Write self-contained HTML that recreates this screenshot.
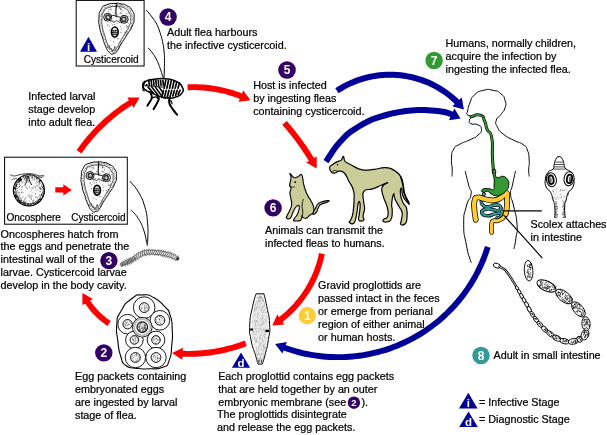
<!DOCTYPE html>
<html><head><meta charset="utf-8"><title>Dipylidium caninum life cycle</title>
<style>
html,body{margin:0;padding:0;background:#fff;}
svg{display:block;}
svg text{font-family:"Liberation Sans",sans-serif;font-size:10.77px;fill:#000;stroke:#000;stroke-width:0.22px;}
</style></head><body>
<svg width="607" height="435" viewBox="0 0 607 435" style="will-change:transform">
<rect width="607" height="435" fill="#fff"/>
<path d="M81.4,153.5 L82.7,151.7 L84.4,149.4 L85.9,147.3 L87.4,145.3 L89.0,143.4 L90.6,141.4 L92.2,139.5 L93.9,137.6 L95.6,135.7 L97.3,133.8 L99.0,132.0 L100.8,130.2 L102.6,128.4 L104.4,126.7 L106.2,124.9 L108.1,123.2 L110.0,121.5 L111.9,119.9 L113.8,118.3 L115.8,116.7 L117.8,115.1 L119.8,113.6 L121.8,112.1 L123.8,110.7 L125.9,109.2 L128.0,107.8 L130.1,106.5 L132.1,105.2 L133.5,108.0 L139.6,97.5 L127.5,97.4 L128.9,100.2 L127.0,101.5 L124.8,102.9 L122.6,104.3 L120.4,105.8 L118.3,107.4 L116.2,108.9 L114.1,110.5 L112.1,112.1 L110.1,113.7 L108.1,115.4 L106.1,117.1 L104.1,118.8 L102.2,120.6 L100.3,122.4 L98.4,124.2 L96.6,126.0 L94.8,127.9 L93.0,129.8 L91.2,131.7 L89.5,133.7 L87.7,135.6 L86.1,137.6 L84.4,139.7 L82.8,141.7 L81.2,143.8 L79.6,145.9 L77.9,148.2 L76.6,150.1Z" fill="#ff0000"/>
<path d="M187.7,90.2 L189.5,90.2 L191.7,90.1 L193.7,90.1 L195.7,90.1 L197.6,90.2 L199.6,90.3 L201.6,90.4 L203.6,90.5 L205.5,90.7 L207.5,90.9 L209.5,91.1 L211.4,91.4 L213.4,91.7 L215.3,92.0 L217.3,92.4 L219.2,92.8 L221.2,93.2 L223.1,93.6 L225.0,94.1 L226.9,94.6 L228.9,95.2 L230.8,95.7 L232.6,96.3 L234.5,96.9 L236.4,97.6 L238.3,98.3 L239.8,98.9 L238.4,101.8 L250.5,100.3 L243.3,90.4 L241.9,93.4 L240.3,92.8 L238.4,92.0 L236.4,91.4 L234.5,90.7 L232.5,90.1 L230.5,89.5 L228.5,88.9 L226.5,88.4 L224.5,87.9 L222.5,87.4 L220.4,87.0 L218.4,86.6 L216.4,86.2 L214.3,85.9 L212.3,85.6 L210.2,85.3 L208.2,85.0 L206.1,84.8 L204.0,84.6 L202.0,84.5 L199.9,84.4 L197.8,84.3 L195.8,84.2 L193.7,84.2 L191.6,84.2 L189.3,84.3 L187.5,84.4Z" fill="#ff0000"/>
<path d="M282.3,124.8 L283.3,126.0 L284.6,127.5 L285.7,128.8 L286.8,130.1 L287.9,131.4 L289.0,132.8 L290.1,134.1 L291.2,135.5 L292.2,136.8 L293.3,138.2 L294.3,139.6 L295.4,141.0 L296.4,142.3 L297.4,143.7 L298.4,145.1 L299.4,146.6 L300.4,148.0 L301.4,149.4 L302.4,150.8 L303.3,152.3 L304.3,153.7 L305.2,155.2 L306.1,156.6 L307.1,158.1 L308.0,159.6 L308.9,161.1 L308.9,161.1 L306.1,162.6 L316.7,168.6 L316.7,156.5 L313.9,158.0 L313.9,158.0 L313.0,156.5 L312.1,155.0 L311.1,153.5 L310.2,152.0 L309.2,150.5 L308.2,149.0 L307.2,147.5 L306.3,146.1 L305.3,144.6 L304.2,143.2 L303.2,141.7 L302.2,140.3 L301.2,138.9 L300.1,137.4 L299.0,136.0 L298.0,134.6 L296.9,133.2 L295.8,131.8 L294.7,130.4 L293.6,129.0 L292.5,127.7 L291.3,126.3 L290.2,125.0 L289.0,123.6 L287.7,122.1 L286.7,121.0Z" fill="#ff0000"/>
<path d="M319.0,253.1 L318.5,255.4 L317.8,258.4 L317.1,261.0 L316.3,263.7 L315.4,266.2 L314.5,268.8 L313.6,271.4 L312.5,273.9 L311.4,276.4 L310.2,278.8 L309.0,281.3 L307.7,283.7 L306.4,286.0 L305.0,288.4 L303.5,290.7 L302.0,292.9 L300.4,295.2 L298.8,297.3 L297.1,299.5 L295.3,301.6 L293.5,303.7 L291.7,305.7 L289.8,307.6 L287.8,309.6 L285.9,311.4 L283.8,313.3 L281.7,315.0 L279.6,316.8 L279.1,317.2 L277.3,314.5 L272.3,325.6 L284.4,324.5 L282.7,321.9 L283.3,321.4 L285.5,319.6 L287.7,317.7 L289.8,315.8 L291.9,313.8 L294.0,311.8 L296.0,309.7 L297.9,307.6 L299.8,305.4 L301.7,303.2 L303.4,300.9 L305.2,298.6 L306.8,296.3 L308.4,293.9 L310.0,291.5 L311.5,289.0 L312.9,286.5 L314.3,284.0 L315.5,281.4 L316.8,278.8 L317.9,276.2 L319.0,273.5 L320.1,270.9 L321.0,268.1 L321.9,265.4 L322.7,262.7 L323.5,259.9 L324.2,256.8 L324.8,254.3Z" fill="#ff0000"/>
<path d="M244.8,340.5 L242.9,341.2 L240.4,342.1 L238.2,342.9 L236.1,343.6 L233.9,344.3 L231.6,344.9 L229.4,345.5 L227.2,346.1 L225.0,346.6 L222.7,347.2 L220.5,347.6 L218.2,348.1 L216.0,348.5 L213.7,348.9 L211.4,349.2 L209.1,349.6 L206.8,349.8 L204.6,350.1 L202.3,350.3 L200.0,350.5 L197.7,350.6 L195.4,350.8 L193.1,350.8 L190.8,350.9 L188.5,350.9 L186.2,350.9 L183.9,350.8 L182.7,350.8 L183.0,347.7 L172.1,353.0 L182.1,359.8 L182.5,356.7 L183.7,356.7 L186.1,356.8 L188.5,356.8 L190.9,356.8 L193.3,356.7 L195.6,356.7 L198.0,356.5 L200.4,356.4 L202.8,356.2 L205.2,356.0 L207.5,355.7 L209.9,355.4 L212.3,355.1 L214.6,354.7 L217.0,354.3 L219.3,353.9 L221.7,353.4 L224.0,352.9 L226.3,352.4 L228.7,351.8 L231.0,351.2 L233.3,350.6 L235.6,349.9 L237.8,349.2 L240.1,348.5 L242.4,347.7 L244.9,346.8 L246.8,346.1Z" fill="#ff0000"/>
<path d="M110.8,321.1 L109.9,320.4 L108.7,319.6 L107.7,318.9 L106.7,318.2 L105.8,317.4 L104.8,316.6 L103.9,315.8 L102.9,315.0 L102.0,314.2 L101.1,313.4 L100.2,312.5 L99.3,311.7 L98.5,310.8 L97.6,309.9 L96.8,309.0 L96.0,308.1 L95.2,307.1 L94.4,306.2 L93.6,305.2 L92.8,304.2 L92.1,303.3 L91.4,302.3 L90.7,301.2 L90.1,300.4 L92.9,299.0 L82.4,293.0 L82.4,305.1 L85.2,303.7 L85.8,304.6 L86.6,305.7 L87.4,306.8 L88.2,307.8 L89.0,308.9 L89.8,309.9 L90.7,310.9 L91.5,311.9 L92.4,312.9 L93.3,313.9 L94.2,314.9 L95.2,315.8 L96.1,316.8 L97.1,317.7 L98.0,318.6 L99.0,319.5 L100.0,320.3 L101.1,321.2 L102.1,322.0 L103.1,322.8 L104.2,323.6 L105.3,324.4 L106.5,325.3 L107.4,325.9Z" fill="#ff0000"/>
<path d="M338.5,93.3 L341.1,91.7 L344.4,89.7 L347.4,88.1 L350.4,86.6 L353.6,85.2 L356.7,83.9 L359.9,82.8 L363.2,81.7 L366.5,80.8 L369.8,80.0 L373.1,79.3 L376.5,78.7 L379.8,78.3 L383.2,78.0 L386.6,77.8 L390.0,77.7 L393.5,77.8 L396.9,78.0 L400.2,78.3 L403.6,78.7 L407.0,79.3 L410.3,79.9 L413.6,80.7 L416.9,81.7 L420.1,82.7 L423.3,83.9 L426.5,85.1 L429.6,86.5 L432.7,88.0 L435.6,89.6 L438.6,91.4 L441.4,93.2 L444.2,95.1 L447.0,97.1 L449.6,99.3 L452.2,101.5 L454.7,103.9 L454.9,104.0 L452.2,106.3 L463.9,109.4 L461.8,97.5 L459.1,99.8 L458.8,99.5 L456.2,97.0 L453.5,94.7 L450.6,92.4 L447.7,90.2 L444.8,88.2 L441.7,86.2 L438.6,84.4 L435.4,82.7 L432.1,81.1 L428.8,79.6 L425.5,78.3 L422.1,77.0 L418.6,75.9 L415.1,74.9 L411.6,74.1 L408.1,73.4 L404.5,72.8 L400.9,72.3 L397.3,72.0 L393.7,71.8 L390.0,71.7 L386.4,71.8 L382.8,72.0 L379.2,72.3 L375.6,72.8 L372.0,73.4 L368.5,74.1 L364.9,75.0 L361.4,76.0 L358.0,77.1 L354.6,78.3 L351.2,79.7 L347.9,81.2 L344.6,82.8 L341.4,84.5 L337.9,86.6 L335.3,88.3Z" fill="#000099"/>
<path d="M328.5,163.2 L330.1,160.7 L332.5,157.1 L335.0,153.2 L337.2,150.1 L339.0,147.8 L340.5,145.9 L342.1,144.1 L343.9,142.2 L345.7,140.3 L347.3,138.5 L349.2,136.7 L351.9,134.6 L355.7,132.0 L360.3,129.1 L365.1,126.3 L369.6,123.9 L373.7,122.1 L377.6,120.7 L381.5,119.5 L385.2,118.4 L388.7,117.4 L392.0,116.6 L395.1,116.0 L398.1,115.3 L400.8,114.8 L403.3,114.4 L405.8,114.0 L408.5,113.7 L411.6,113.4 L414.8,113.2 L418.1,113.1 L421.4,113.0 L424.6,113.0 L427.8,113.2 L431.0,113.4 L434.2,113.7 L437.4,114.0 L440.7,114.5 L443.8,115.0 L446.8,115.8 L450.2,117.0 L450.4,117.1 L448.9,120.3 L460.5,118.6 L454.4,108.5 L452.9,111.7 L452.3,111.4 L448.6,110.0 L445.1,109.1 L441.6,108.5 L438.2,108.1 L434.8,107.7 L431.5,107.4 L428.1,107.2 L424.8,107.0 L421.4,107.0 L418.0,107.1 L414.5,107.2 L411.1,107.4 L407.9,107.7 L405.0,108.0 L402.4,108.4 L399.7,108.9 L396.9,109.5 L393.8,110.1 L390.6,110.8 L387.2,111.6 L383.6,112.6 L379.8,113.7 L375.7,115.0 L371.4,116.6 L367.0,118.5 L362.2,121.0 L357.2,124.0 L352.4,127.0 L348.3,129.8 L345.3,132.1 L343.1,134.3 L341.3,136.2 L339.5,138.2 L337.7,140.1 L336.0,142.0 L334.3,144.0 L332.4,146.5 L330.0,149.9 L327.5,153.8 L325.1,157.5 L323.5,160.0Z" fill="#000099"/>
<path d="M485.0,246.0 L484.1,248.7 L482.9,252.2 L481.8,255.2 L480.6,258.2 L479.4,261.2 L478.1,264.2 L476.7,267.1 L475.3,270.0 L473.8,272.9 L472.3,275.7 L470.6,278.5 L469.0,281.3 L467.2,284.0 L465.5,286.7 L463.6,289.4 L461.7,292.0 L459.8,294.6 L457.8,297.1 L455.7,299.6 L453.6,302.0 L451.4,304.5 L449.2,306.8 L447.0,309.1 L444.7,311.4 L442.3,313.6 L439.9,315.8 L437.5,317.9 L435.0,319.9 L432.4,322.0 L429.9,323.9 L427.2,325.8 L424.6,327.7 L421.9,329.4 L419.2,331.2 L416.4,332.8 L413.6,334.5 L410.8,336.0 L407.9,337.5 L405.0,338.9 L402.1,340.3 L399.1,341.6 L396.1,342.9 L393.1,344.1 L390.1,345.2 L387.0,346.3 L383.9,347.3 L380.8,348.2 L377.7,349.0 L374.6,349.8 L371.4,350.6 L368.3,351.2 L365.1,351.8 L361.9,352.4 L358.7,352.8 L355.5,353.2 L352.3,353.6 L349.0,353.8 L345.8,354.0 L342.6,354.2 L339.3,354.2 L336.1,354.2 L332.9,354.1 L329.6,354.0 L326.4,353.8 L323.2,353.5 L319.9,353.1 L316.7,352.7 L313.5,352.2 L310.3,351.7 L307.1,351.1 L304.0,350.4 L300.8,349.6 L297.7,348.8 L294.6,347.9 L291.5,347.0 L288.4,346.0 L285.6,345.0 L286.9,342.1 L275.1,344.0 L282.4,353.5 L283.7,350.6 L286.5,351.6 L289.7,352.6 L292.9,353.6 L296.1,354.5 L299.4,355.4 L302.7,356.2 L306.0,356.9 L309.3,357.5 L312.6,358.1 L315.9,358.6 L319.2,359.0 L322.6,359.4 L325.9,359.7 L329.3,359.9 L332.7,360.0 L336.0,360.1 L339.4,360.1 L342.7,360.1 L346.1,359.9 L349.5,359.7 L352.8,359.4 L356.1,359.1 L359.5,358.7 L362.8,358.2 L366.1,357.7 L369.4,357.0 L372.7,356.3 L376.0,355.6 L379.2,354.7 L382.5,353.8 L385.7,352.9 L388.9,351.9 L392.1,350.8 L395.2,349.6 L398.3,348.4 L401.4,347.1 L404.5,345.7 L407.5,344.3 L410.6,342.8 L413.5,341.2 L416.5,339.6 L419.4,337.9 L422.3,336.2 L425.1,334.4 L427.9,332.5 L430.7,330.6 L433.4,328.6 L436.0,326.6 L438.7,324.5 L441.3,322.4 L443.8,320.2 L446.3,317.9 L448.7,315.6 L451.1,313.3 L453.5,310.9 L455.8,308.4 L458.0,305.9 L460.2,303.4 L462.4,300.8 L464.4,298.2 L466.5,295.5 L468.4,292.8 L470.3,290.0 L472.2,287.2 L474.0,284.4 L475.7,281.5 L477.4,278.6 L479.0,275.6 L480.6,272.7 L482.0,269.6 L483.5,266.6 L484.8,263.5 L486.1,260.4 L487.3,257.3 L488.5,254.1 L489.7,250.6 L490.6,247.8Z" fill="#000099"/>
<rect x="76.2" y="0.4" width="67.9" height="65.6" fill="#fff" stroke="#000" stroke-width="1"/>
<rect x="4.6" y="157.2" width="122.7" height="67" fill="#fff" stroke="#000" stroke-width="1"/>
<path d="M452.0,176.1 C452.0,173.8 452.3,175.2 452.2,169.2 C452.0,163.2 451.0,164.9 451.5,158.2 C452.0,151.4 451.1,153.6 453.8,149.0 C456.5,144.4 454.2,147.4 459.5,144.4 C464.9,141.3 463.8,142.8 469.9,139.8 C476.0,136.7 474.1,138.6 477.9,135.2 C481.8,131.7 481.4,132.9 481.4,129.4 C481.4,126.0 481.4,126.7 477.9,124.8 C474.5,122.9 473.9,125.2 471.0,123.7 C468.2,122.1 469.4,122.5 469.4,120.2 C469.4,117.9 471.8,118.7 471.0,116.8 C470.3,114.9 468.3,116.4 467.1,114.5 C466.0,112.6 466.7,114.9 467.6,111.0 C468.5,107.2 467.6,108.4 469.9,103.0 C472.2,97.6 469.9,99.2 474.5,94.9 C479.1,90.7 477.5,91.9 483.7,90.3 C489.8,88.8 487.1,89.2 492.9,90.3 C498.6,91.5 496.9,90.3 500.9,93.8 C505.0,97.2 503.7,96.1 505.1,100.7 C506.4,105.3 506.4,103.0 505.1,107.6 C503.7,112.2 503.8,110.3 500.9,114.5 C498.0,118.7 497.5,116.0 496.3,120.2 C495.2,124.4 495.2,122.5 497.5,127.1 C499.8,131.7 497.9,129.7 503.2,134.0 C508.6,138.4 507.0,136.8 513.6,140.2 C520.1,143.7 518.2,141.1 522.8,144.4 C527.4,147.7 525.2,144.8 527.4,150.1 C529.5,155.5 528.7,154.1 529.2,160.5 C529.7,166.8 528.7,164.0 528.7,169.2 C528.7,174.4 529.0,173.8 529.2,176.1" fill="none" stroke="#000" stroke-width="1" stroke-linejoin="round" stroke-linecap="round" />
<path d="M465.3,171.5 C466.4,176.1 466.8,177.6 468.7,185.3 C470.7,193.0 471.8,187.6 471.0,194.5 C470.3,201.4 468.9,196.0 466.4,206.0 C464.0,215.9 463.7,211.3 463.7,224.4 C463.7,237.4 464.4,233.6 466.4,245.1 C468.5,256.6 468.2,253.1 469.9,258.9 C471.6,264.6 471.0,261.1 471.5,262.3" fill="none" stroke="#000" stroke-width="1" stroke-linejoin="round" stroke-linecap="round" />
<path d="M515.4,171.5 C514.4,176.1 514.0,177.6 512.4,185.3 C510.8,193.0 510.2,187.6 510.6,194.5 C511.0,201.4 511.4,196.0 513.6,206.0 C515.7,215.9 516.2,213.6 517.0,224.4 C517.8,235.1 516.9,230.1 515.9,238.2 C514.9,246.2 514.6,245.1 514.0,248.5" fill="none" stroke="#000" stroke-width="1" stroke-linejoin="round" stroke-linecap="round" />
<path d="M471.0,116.8 C474.1,116.2 475.6,113.6 480.2,115.2 C484.8,116.7 482.5,116.6 484.8,121.4 C487.1,126.1 484.8,124.1 487.1,129.4 C489.4,134.8 490.0,128.7 491.7,137.5 C493.5,146.3 491.9,145.1 492.4,155.9 C493.0,166.6 493.0,164.4 493.3,169.7 C493.6,174.9 493.3,170.9 493.3,171.5" fill="none" stroke="#000" stroke-width="3.0" stroke-linejoin="round" stroke-linecap="round" />
<path d="M471.0,116.8 C474.1,116.2 475.6,113.6 480.2,115.2 C484.8,116.7 482.5,116.6 484.8,121.4 C487.1,126.1 484.8,124.1 487.1,129.4 C489.4,134.8 490.0,128.7 491.7,137.5 C493.5,146.3 491.9,145.1 492.4,155.9 C493.0,166.6 493.0,164.4 493.3,169.7 C493.6,174.9 493.3,170.9 493.3,171.5" fill="none" stroke="#339933" stroke-width="1.7" stroke-linejoin="round" stroke-linecap="round" />
<path d="M484.1,193.9 C483.3,195.9 482.2,196.3 481.7,199.9 C481.2,203.5 480.7,202.4 482.6,204.7 C484.5,207.0 483.3,206.7 487.4,206.8 C491.5,206.9 490.6,205.1 494.9,205.0 C499.2,204.9 499.0,204.7 500.3,206.5 C501.6,208.3 501.6,209.4 498.8,210.4 C496.0,211.4 496.2,209.9 491.9,209.5 C487.6,209.1 489.3,208.2 485.9,209.2 C482.5,210.2 481.2,210.3 481.7,212.5 C482.2,214.6 483.0,215.2 487.4,215.7 C491.8,216.2 490.4,214.7 494.9,213.9 C499.4,213.1 499.1,212.5 500.9,213.3 C502.7,214.2 501.6,215.1 500.3,216.6 C499.0,218.1 498.1,217.4 497.0,217.8" fill="none" stroke="#000" stroke-width="3.5" stroke-linejoin="round" stroke-linecap="round" />
<path d="M484.1,193.9 C483.3,195.9 482.2,196.3 481.7,199.9 C481.2,203.5 480.7,202.4 482.6,204.7 C484.5,207.0 483.3,206.7 487.4,206.8 C491.5,206.9 490.6,205.1 494.9,205.0 C499.2,204.9 499.0,204.7 500.3,206.5 C501.6,208.3 501.6,209.4 498.8,210.4 C496.0,211.4 496.2,209.9 491.9,209.5 C487.6,209.1 489.3,208.2 485.9,209.2 C482.5,210.2 481.2,210.3 481.7,212.5 C482.2,214.6 483.0,215.2 487.4,215.7 C491.8,216.2 490.4,214.7 494.9,213.9 C499.4,213.1 499.1,212.5 500.9,213.3 C502.7,214.2 501.6,215.1 500.3,216.6 C499.0,218.1 498.1,217.4 497.0,217.8" fill="none" stroke="#339999" stroke-width="2.1" stroke-linejoin="round" stroke-linecap="round" />
<path d="M475.8,219.8 C475.4,216.7 474.8,215.4 474.4,209.6 C474.1,203.9 473.5,204.3 474.6,200.6 C475.6,197.0 474.9,198.0 477.9,197.5 C480.8,197.0 479.8,198.1 484.4,199.0 C489.1,199.9 488.5,200.7 493.4,200.3 C498.3,200.0 497.0,200.0 500.9,197.8 C504.7,195.6 504.4,192.2 506.3,192.9 C508.1,193.5 506.9,195.3 507.0,199.9 C507.1,204.5 507.1,203.8 506.7,208.1 C506.3,212.4 506.0,212.4 505.7,214.2" fill="none" stroke="#000" stroke-width="5.8" stroke-linejoin="round" stroke-linecap="round" />
<path d="M505.7,214.2 C504.7,215.5 504.9,216.5 502.4,218.4 C499.8,220.4 499.8,220.1 497.1,220.8 C494.4,221.5 495.1,219.8 493.4,220.8 C491.7,221.8 492.1,220.6 491.6,224.1 C491.1,227.6 491.6,230.0 491.6,232.5" fill="none" stroke="#000" stroke-width="4.6" stroke-linejoin="round" stroke-linecap="round" />
<path d="M475.8,219.8 C475.4,216.7 474.8,215.4 474.4,209.6 C474.1,203.9 473.5,204.3 474.6,200.6 C475.6,197.0 474.9,198.0 477.9,197.5 C480.8,197.0 479.8,198.1 484.4,199.0 C489.1,199.9 488.5,200.7 493.4,200.3 C498.3,200.0 497.0,200.0 500.9,197.8 C504.7,195.6 504.4,192.2 506.3,192.9 C508.1,193.5 506.9,195.3 507.0,199.9 C507.1,204.5 507.1,203.8 506.7,208.1 C506.3,212.4 506.0,212.4 505.7,214.2" fill="none" stroke="#ffcc33" stroke-width="4.3" stroke-linejoin="round" stroke-linecap="round" />
<path d="M505.7,214.2 C504.7,215.5 504.9,216.5 502.4,218.4 C499.8,220.4 499.8,220.1 497.1,220.8 C494.4,221.5 495.1,219.8 493.4,220.8 C491.7,221.8 492.1,220.6 491.6,224.1 C491.1,227.6 491.6,230.0 491.6,232.5" fill="none" stroke="#ffcc33" stroke-width="3.1" stroke-linejoin="round" stroke-linecap="round" />
<path d="M492.8,170.0 C493.4,168.8 494.7,168.4 495.5,170.0 C496.3,171.6 494.8,174.0 495.6,176.0 C496.5,178.0 496.6,177.4 498.6,177.5 C500.6,177.6 500.7,175.7 503.1,176.3 C505.5,176.9 506.1,177.2 507.6,179.7 C509.1,182.2 509.0,182.7 508.6,185.7 C508.2,188.7 508.2,188.5 506.1,190.9 C504.0,193.3 503.7,193.4 500.9,194.7 C498.1,195.9 498.2,195.9 495.6,195.7 C493.1,195.5 493.4,195.1 491.2,193.9 C489.0,192.7 489.4,191.6 487.4,191.2 C485.4,190.8 485.2,192.5 483.7,192.4 C482.2,192.3 481.7,191.9 481.7,190.9 C481.7,190.0 481.8,189.4 483.7,188.8 C485.6,188.2 486.3,188.5 488.9,188.7 C491.5,188.8 492.0,190.4 493.4,189.4 C494.8,188.4 493.9,187.7 494.1,184.9 C494.3,182.2 494.4,181.8 494.1,179.0 C493.9,176.2 493.5,176.9 493.1,174.5 C492.7,172.1 492.2,171.2 492.8,170.0Z" fill="#339933" stroke="#000" stroke-width="1.0" stroke-linejoin="round" stroke-linecap="round" />
<path d="M502,210.8H541.8 M503.7,215.1 L542.3,258.1" stroke="#000" stroke-width="1.15" fill="none"/>
<path d="M313.1,212.6 C313.6,210.8 313.8,211.7 315.2,209.1 C316.6,206.6 315.4,207.3 317.2,205.0 C319.1,202.7 317.2,203.7 320.7,202.2 C324.1,200.8 325.3,200.7 327.6,200.6 C329.9,200.5 329.7,200.7 327.6,202.0 C325.5,203.2 324.4,202.6 321.4,204.3 C318.4,206.0 320.2,204.5 318.6,207.1 C317.0,209.6 318.2,209.5 316.6,211.9 C314.9,214.3 314.9,214.1 313.8,214.4 C312.6,214.6 312.6,214.3 313.1,212.6Z" fill="#cccc99" stroke="#000" stroke-width="1.1" stroke-linejoin="round" stroke-linecap="round" />
<path d="M289.9,173.3 C290.7,173.3 291.7,176.5 293.8,177.4 C295.9,178.3 295.9,177.5 297.9,176.7 C300.0,175.9 300.1,173.8 301.4,174.4 C302.7,174.9 302.2,176.5 302.8,178.8 C303.3,181.1 302.9,180.4 303.4,182.9 C304.0,185.5 303.7,185.1 304.8,188.4 C305.9,191.8 305.9,192.0 307.6,195.3 C309.2,198.7 309.4,197.6 311.0,200.9 C312.7,204.2 313.2,204.6 313.8,207.8 C314.3,210.9 314.2,210.6 313.1,212.6 C312.0,214.6 311.5,213.9 309.7,215.3 C307.8,216.8 308.0,217.6 306.2,218.1 C304.4,218.7 303.9,218.1 302.8,217.4 C301.7,216.7 302.6,214.6 302.1,215.3 C301.5,216.1 302.5,218.7 300.7,220.2 C298.9,221.6 297.0,221.0 295.2,220.9 C293.3,220.7 293.1,221.5 293.8,219.5 C294.5,217.5 296.5,216.8 297.9,213.3 C299.4,209.8 299.7,208.2 299.3,206.4 C298.9,204.5 298.0,205.3 296.6,206.4 C295.1,207.5 295.4,207.4 293.8,210.5 C292.1,213.6 292.2,216.1 290.3,218.1 C288.5,220.1 287.8,218.7 286.9,218.1 C286.0,217.6 286.0,218.4 286.9,216.0 C287.8,213.6 289.1,212.4 290.3,209.1 C291.6,205.8 291.6,206.6 291.7,203.6 C291.8,200.7 291.2,201.0 290.8,198.1 C290.3,195.2 289.9,195.2 289.9,192.6 C290.0,190.0 291.1,190.3 291.0,188.4 C291.0,186.6 289.8,187.5 289.7,185.7 C289.5,183.9 290.0,183.8 290.3,181.6 C290.7,179.3 291.1,179.6 291.0,177.4 C290.9,175.2 289.2,173.3 289.9,173.3Z" fill="#cccc99" stroke="#000" stroke-width="1.1" stroke-linejoin="round" stroke-linecap="round" />
<path d="M303.4,199.5 C303.0,201.3 302.3,200.9 302.1,205.0 C301.8,209.1 302.8,208.4 302.8,211.9 C302.8,215.3 302.3,214.2 302.1,215.3" fill="none" stroke="#000" stroke-width="0.9" stroke-linejoin="round" stroke-linecap="round" />
<circle cx="295.2" cy="182.2" r="0.9" fill="#000"/>
<path d="M290.3,185.7 C291.0,186.1 291.0,186.7 292.4,187.1 C293.8,187.4 293.8,186.9 294.5,186.8" fill="none" stroke="#000" stroke-width="0.8" stroke-linejoin="round" stroke-linecap="round" />
<path d="M329.6,167.5 C329.8,165.5 330.2,166.3 332.4,164.7 C334.6,163.1 335.5,162.6 337.9,161.4 C340.2,160.2 339.7,161.4 341.2,160.1 C342.7,158.8 342.4,156.2 343.4,156.4 C344.4,156.7 343.4,159.1 344.9,161.0 C346.4,163.0 345.9,162.1 348.9,163.8 C352.0,165.5 355.0,166.8 356.3,167.5 C357.6,168.2 352.1,165.8 353.7,166.4 C355.3,167.1 357.0,169.0 362.4,169.8 C367.8,170.6 367.8,169.9 374.0,169.3 C380.2,168.8 380.2,167.3 385.6,167.6 C391.0,167.9 390.2,168.1 394.3,170.5 C398.3,172.9 398.4,172.7 400.8,176.6 C403.2,180.5 402.2,180.7 403.3,185.3 C404.3,189.9 403.2,189.3 404.7,194.0 C406.3,198.7 408.4,200.7 409.1,203.0 C409.8,205.2 408.9,204.2 407.3,202.4 C405.7,200.6 404.5,199.9 403.0,196.2 C401.4,192.4 402.2,188.8 401.5,188.2 C400.8,187.6 400.0,190.1 400.4,194.0 C400.7,197.9 401.3,198.8 403.0,202.7 C404.6,206.5 405.6,204.2 406.6,208.5 C407.6,212.7 407.3,214.6 406.9,218.6 C406.5,222.7 406.8,222.1 405.1,223.7 C403.5,225.2 401.8,225.2 400.8,224.4 C399.8,223.6 400.8,223.9 401.2,220.8 C401.6,217.7 402.7,216.5 402.2,212.8 C401.7,209.2 401.3,210.7 399.3,207.0 C397.4,203.4 396.5,202.5 395.0,199.1 C393.5,195.6 394.4,192.6 393.6,194.0 C392.7,195.3 392.0,199.9 391.7,204.1 C391.3,208.4 392.3,206.1 392.2,209.9 C392.2,213.8 392.6,215.5 391.4,218.6 C390.2,221.8 389.9,221.0 387.8,221.8 C385.6,222.6 384.4,222.2 383.4,221.5 C382.4,220.8 382.9,220.3 383.8,219.2 C384.8,218.1 385.9,219.2 387.0,217.5 C388.2,215.8 388.3,216.0 388.2,212.8 C388.1,209.7 388.0,209.8 386.7,205.6 C385.5,201.3 384.7,201.7 383.4,196.9 C382.1,192.1 380.8,191.3 382.0,187.5 C383.1,183.7 387.9,183.3 387.8,182.7 C387.6,182.1 385.3,183.6 381.2,185.3 C377.2,187.0 377.2,187.3 372.5,188.9 C367.9,190.5 366.2,188.1 363.8,191.4 C361.4,194.7 363.4,196.7 363.6,201.2 C363.7,205.8 364.7,204.6 364.6,208.5 C364.4,212.3 363.3,212.6 363.1,215.7 C362.9,218.8 364.6,218.7 363.8,220.1 C363.1,221.5 361.6,221.3 360.2,220.9 C358.8,220.6 358.8,221.1 358.6,218.9 C358.4,216.7 359.1,216.8 359.5,212.8 C359.9,208.9 360.4,206.8 360.1,204.1 C359.8,201.5 359.3,200.3 358.3,203.0 C357.4,205.7 357.8,208.9 356.6,214.3 C355.4,219.6 355.9,220.8 354.0,223.0 C352.1,225.1 350.2,223.2 349.3,222.4 C348.5,221.5 349.8,222.3 350.8,219.8 C351.8,217.2 352.1,217.8 353.0,212.8 C353.8,207.9 353.9,207.2 354.0,201.2 C354.1,195.2 354.8,195.7 353.4,190.4 C352.1,185.0 351.3,185.9 348.9,181.3 C346.5,176.7 347.0,175.7 344.3,173.0 C341.6,170.3 341.3,171.2 338.8,171.2 C336.4,171.2 337.1,172.8 335.1,173.0 C333.2,173.3 332.9,173.6 331.4,172.1 C330.0,170.6 329.4,169.4 329.6,167.5Z" fill="#cccc99" stroke="#000" stroke-width="1.2" stroke-linejoin="round" stroke-linecap="round" />
<path d="M400.8,177.3 C401.5,180.0 401.8,179.7 403.0,185.3 C404.2,190.8 402.6,188.3 404.4,194.0 C406.3,199.7 407.1,199.6 408.5,202.4" fill="none" stroke="#000" stroke-width="1.4" stroke-linejoin="round" stroke-linecap="round" />
<path d="M331.4,172.1 C332.4,171.6 332.5,171.1 334.2,170.6 C335.9,170.1 335.7,170.6 336.4,170.6" fill="none" stroke="#000" stroke-width="0.8" stroke-linejoin="round" stroke-linecap="round" />
<circle cx="337.5" cy="164.7" r="0.8" fill="#000"/>
<path d="M116.2,3.4 C111.4,3.8 111.6,2.8 106.6,4.8 C101.5,6.9 103.6,5.3 101.0,9.7 C98.5,14.0 99.4,12.0 99.0,17.9 C98.5,23.9 98.5,21.1 99.7,27.6 C100.8,34.0 100.3,30.8 102.4,37.2 C104.5,43.7 103.6,41.8 105.9,46.9 C108.2,52.0 106.8,50.1 109.3,52.4 C111.8,54.7 110.7,54.5 113.4,53.8 C116.2,53.1 115.1,53.6 117.6,50.3 C120.1,47.1 117.8,49.4 121.0,44.1 C124.3,38.9 123.6,40.5 127.2,34.5 C130.9,28.5 129.8,31.7 132.1,26.2 C134.4,20.7 134.1,23.2 134.1,17.9 C134.1,12.6 134.6,14.5 132.1,10.3 C129.5,6.2 130.2,7.7 126.6,5.5 C122.9,3.4 124.5,4.6 121.0,3.9 C117.6,3.2 121.0,3.1 116.2,3.4Z" fill="#fff" stroke="#000" stroke-width="1.0" stroke-linejoin="round" stroke-linecap="round" />
<path d="M116.1,6.4 C112.1,6.7 112.3,5.8 108.2,7.6 C104.0,9.4 105.7,8.0 103.7,11.8 C101.6,15.6 102.3,13.8 102.0,19.0 C101.6,24.2 101.6,21.8 102.5,27.4 C103.5,33.0 103.1,30.2 104.8,35.8 C106.5,41.4 105.7,39.8 107.6,44.2 C109.5,48.6 108.4,47.0 110.4,49.0 C112.5,51.0 111.6,50.8 113.8,50.2 C116.1,49.6 115.2,50.0 117.2,47.2 C119.3,44.4 117.4,46.4 120.1,41.8 C122.7,37.2 122.1,38.6 125.1,33.4 C128.2,28.2 127.2,31.0 129.1,26.2 C131.0,21.4 130.8,23.6 130.8,19.0 C130.8,14.4 131.2,16.0 129.1,12.4 C127.0,8.8 127.6,10.1 124.6,8.2 C121.6,6.3 122.9,7.4 120.1,6.8 C117.2,6.2 120.1,6.1 116.1,6.4Z" fill="none" stroke="#000" stroke-width="0.7" stroke-linejoin="round" stroke-linecap="round" />
<path d="M116.5,5.0 C116.3,7.0 116.0,7.3 115.9,11.0 C115.8,14.8 116.1,14.5 116.2,16.3" fill="none" stroke="#000" stroke-width="1.1" stroke-linejoin="round" stroke-linecap="round" />
<path d="M110.7,16.3 C111.7,16.0 111.9,15.4 113.7,15.4 C115.6,15.5 114.6,16.1 116.2,16.6 C117.9,17.0 117.1,16.3 118.7,16.8 C120.3,17.4 120.3,17.7 121.0,18.2" fill="none" stroke="#000" stroke-width="1.0" stroke-linejoin="round" stroke-linecap="round" />
<path d="M111.8,20.7 C112.6,21.1 112.6,22.1 114.1,22.1 C115.7,22.1 114.9,20.7 116.5,20.7 C118.1,20.7 117.3,21.4 119.0,22.1 C120.6,22.8 120.6,22.5 121.4,22.8" fill="none" stroke="#000" stroke-width="0.8" stroke-linejoin="round" stroke-linecap="round" />
<circle cx="107.7" cy="17.2" r="4.0" fill="#e8e8e8" stroke="#000" stroke-width="0.9"/>
<circle cx="108.1" cy="17.2" r="2.2" fill="#ccc" stroke="#333" stroke-width="1.4"/>
<circle cx="124.2" cy="19.3" r="4.0" fill="#e8e8e8" stroke="#000" stroke-width="0.9"/>
<circle cx="123.8" cy="19.3" r="2.2" fill="#ccc" stroke="#333" stroke-width="1.4"/>
<ellipse cx="114.8" cy="32.0" rx="3.3" ry="5.0" fill="#fff" stroke="#000" stroke-width="1.7"/>
<path d="M112.2,30.4h5.2 M112.0,32.4h5.6 M112.6,34.4h4.4 M113.8,30.4v5 M115.8,30.4v5" stroke="#000" stroke-width="0.7"/>
<path d="M109.3,45.5 C109.8,46.7 109.3,47.6 110.7,49.0 C112.1,50.3 112.1,50.6 113.4,49.7 C114.8,48.7 114.4,47.4 114.8,46.2" fill="none" stroke="#000" stroke-width="0.6" stroke-linejoin="round" stroke-linecap="round" />
<path d="M108.8,30.3h0.7 M112.6,32.9h0.7 M120.0,9.3h0.7 M109.4,16.7h0.7 M126.1,27.3h0.7 M120.4,13.0h0.7 M117.0,38.9h0.7 M121.3,9.2h0.7 M123.8,32.3h0.7 M110.6,7.8h0.7 M126.9,27.1h0.7 M113.4,41.5h0.7 M114.8,47.4h0.7 M105.9,15.9h0.7 M120.0,19.6h0.7 M116.6,23.3h0.7 M112.1,32.0h0.7 M121.3,13.6h0.7 M122.5,15.7h0.7 M125.9,31.5h0.7 M110.2,9.2h0.7 M113.8,13.0h0.7 M110.4,40.1h0.7 M119.7,8.4h0.7 M122.7,20.9h0.7 M110.9,9.8h0.7 M119.3,7.8h0.7 M107.7,24.3h0.7 M119.6,13.3h0.7 M111.0,48.4h0.7 M127.8,23.0h0.7 M115.2,29.2h0.7 M120.5,32.5h0.7 M118.1,33.6h0.7 M114.4,38.0h0.7 M108.8,19.6h0.7 M117.8,6.9h0.7 M113.9,31.8h0.7 M120.2,9.0h0.7 M120.1,26.8h0.7 M121.6,21.9h0.7 M109.2,26.4h0.7 M119.1,20.4h0.7 M112.5,20.1h0.7 M112.6,32.5h0.7 M110.6,22.9h0.7 M118.4,38.6h0.7 M110.9,16.2h0.7 M125.1,16.9h0.7 M107.4,25.5h0.7 M122.1,10.9h0.7 M111.2,21.0h0.7 M126.0,25.6h0.7 M126.6,13.8h0.7 M111.7,34.9h0.7 M127.5,26.2h0.7 M108.4,11.7h0.7 M117.2,14.8h0.7 M107.3,18.6h0.7 M125.2,21.5h0.7 M105.7,19.2h0.7 M124.9,18.3h0.7 M111.9,24.7h0.7 M114.1,24.4h0.7 M128.5,13.2h0.7 M114.5,48.0h0.7 M128.7,16.1h0.7 M121.1,29.1h0.7 M110.3,21.4h0.7 M108.5,9.4h0.7" stroke="#000" stroke-width="0.7" fill="none"/>
<path d="M116.3,4.6h0.6 M115.9,4.4h0.6 M115.0,5.4h0.6 M113.9,5.7h0.6 M112.6,5.4h0.6 M110.1,5.8h0.6 M109.1,5.4h0.6 M108.6,5.9h0.6 M107.2,6.8h0.6 M106.7,6.4h0.6 M105.4,7.5h0.6 M105.0,7.9h0.6 M104.2,7.7h0.6 M103.9,9.1h0.6 M102.8,9.7h0.6 M103.4,10.4h0.6 M102.8,10.1h0.6 M102.1,12.0h0.6 M101.0,12.1h0.6 M101.0,13.4h0.6 M100.9,14.3h0.6 M101.2,14.6h0.6 M100.1,15.9h0.6 M100.0,16.8h0.6 M101.1,19.0h0.6 M99.8,19.5h0.6 M100.1,20.4h0.6 M100.2,22.0h0.6 M100.6,22.7h0.6 M100.2,23.8h0.6 M100.2,25.3h0.6 M101.2,26.2h0.6 M100.5,27.1h0.6 M101.1,28.8h0.6 M102.0,29.6h0.6 M102.3,31.1h0.6 M102.1,31.8h0.6 M102.5,33.4h0.6 M102.8,34.5h0.6 M103.2,35.0h0.6 M103.6,36.8h0.6 M103.4,37.6h0.6 M104.2,39.4h0.6 M105.3,39.9h0.6 M105.7,41.7h0.6 M105.2,42.4h0.6 M105.4,44.0h0.6 M106.6,45.1h0.6 M107.1,45.8h0.6 M107.4,46.5h0.6 M107.0,47.3h0.6 M107.2,47.5h0.6 M108.6,48.0h0.6 M108.1,48.7h0.6 M109.6,49.3h0.6 M108.8,50.8h0.6 M109.4,51.2h0.6 M110.6,51.6h0.6 M111.4,51.5h0.6 M111.7,51.0h0.6 M112.1,51.9h0.6 M112.5,51.5h0.6 M113.0,52.7h0.6 M112.6,51.8h0.6 M113.7,52.5h0.6 M113.8,51.4h0.6 M114.3,51.7h0.6 M115.4,51.1h0.6 M115.4,50.7h0.6 M115.8,50.3h0.6 M115.9,49.9h0.6 M117.6,49.2h0.6 M117.7,48.3h0.6 M118.1,48.6h0.6 M118.4,47.6h0.6 M118.5,47.1h0.6 M119.4,45.8h0.6 M118.7,45.8h0.6 M120.2,44.7h0.6 M120.0,44.2h0.6 M120.1,42.7h0.6 M120.7,42.1h0.6 M121.6,40.5h0.6 M122.8,40.4h0.6 M123.0,38.9h0.6 M123.9,37.9h0.6 M124.9,35.9h0.6 M125.1,34.4h0.6 M126.2,33.8h0.6 M126.4,32.7h0.6 M127.2,32.3h0.6 M127.6,31.6h0.6 M128.6,30.1h0.6 M129.1,29.5h0.6 M130.1,28.2h0.6 M130.1,27.5h0.6 M131.1,26.1h0.6 M131.3,25.9h0.6 M131.3,23.9h0.6 M131.3,23.6h0.6 M132.2,22.9h0.6 M132.6,21.0h0.6 M131.9,20.0h0.6 M132.0,19.7h0.6 M133.0,19.0h0.6 M132.1,18.0h0.6 M132.1,16.5h0.6 M132.5,15.1h0.6 M131.4,15.2h0.6 M131.4,13.6h0.6 M131.5,13.2h0.6 M130.3,11.9h0.6 M130.5,11.4h0.6 M129.7,10.8h0.6 M130.2,9.9h0.6 M129.0,8.8h0.6 M128.0,9.0h0.6 M127.1,8.8h0.6 M127.5,7.2h0.6 M126.8,7.1h0.6 M125.9,7.2h0.6 M124.7,6.8h0.6 M124.5,6.7h0.6 M123.3,6.4h0.6 M123.7,6.1h0.6 M122.4,5.2h0.6 M121.7,5.4h0.6 M121.4,5.7h0.6 M120.6,4.9h0.6 M120.1,5.4h0.6 M118.9,5.7h0.6 M118.9,4.6h0.6 M118.6,4.5h0.6 M117.2,5.3h0.6 M117.1,5.0h0.6 M116.7,4.9h0.6 M115.9,4.5h0.6" stroke="#222" stroke-width="0.6" fill="none"/>
<path d="M98.5,162.0 C93.7,162.4 93.9,161.4 88.9,163.4 C83.8,165.4 85.9,163.9 83.3,168.2 C80.8,172.5 81.7,170.4 81.3,176.3 C80.8,182.2 80.8,179.5 82.0,185.8 C83.1,192.2 82.6,189.0 84.7,195.3 C86.8,201.7 85.9,199.9 88.2,204.8 C90.5,209.8 89.1,208.0 91.6,210.3 C94.1,212.5 93.0,212.3 95.7,211.6 C98.5,211.0 97.4,211.4 99.9,208.2 C102.4,205.1 100.1,207.3 103.3,202.1 C106.6,196.9 105.9,198.5 109.5,192.6 C113.2,186.7 112.1,189.9 114.4,184.5 C116.7,179.0 116.4,181.5 116.4,176.3 C116.4,171.1 116.9,172.9 114.4,168.8 C111.8,164.8 112.5,166.2 108.9,164.1 C105.2,162.0 106.8,163.1 103.3,162.5 C99.9,161.8 103.3,161.7 98.5,162.0Z" fill="#fff" stroke="#000" stroke-width="1.0" stroke-linejoin="round" stroke-linecap="round" />
<path d="M98.4,165.0 C94.4,165.2 94.6,164.4 90.5,166.2 C86.3,167.9 88.0,166.5 86.0,170.3 C83.9,174.0 84.6,172.3 84.3,177.4 C83.9,182.5 83.9,180.1 84.8,185.7 C85.8,191.2 85.4,188.4 87.1,193.9 C88.8,199.4 88.0,197.9 89.9,202.2 C91.8,206.5 90.7,205.0 92.7,206.9 C94.8,208.9 93.9,208.7 96.1,208.1 C98.4,207.5 97.5,207.9 99.5,205.2 C101.6,202.4 99.7,204.4 102.4,199.8 C105.0,195.3 104.4,196.7 107.4,191.6 C110.5,186.4 109.5,189.2 111.4,184.5 C113.3,179.7 113.1,181.9 113.1,177.4 C113.1,172.9 113.5,174.4 111.4,170.9 C109.3,167.3 109.9,168.6 106.9,166.7 C103.9,164.9 105.2,165.9 102.4,165.3 C99.5,164.7 102.4,164.7 98.4,165.0Z" fill="none" stroke="#000" stroke-width="0.7" stroke-linejoin="round" stroke-linecap="round" />
<path d="M98.8,163.5 C98.6,165.5 98.3,165.8 98.2,169.5 C98.1,173.2 98.4,173.0 98.5,174.7" fill="none" stroke="#000" stroke-width="1.1" stroke-linejoin="round" stroke-linecap="round" />
<path d="M93.0,174.7 C94.0,174.4 94.2,173.8 96.0,173.9 C97.9,174.0 96.9,174.5 98.5,175.0 C100.2,175.4 99.4,174.7 101.0,175.2 C102.6,175.8 102.6,176.1 103.3,176.6" fill="none" stroke="#000" stroke-width="1.0" stroke-linejoin="round" stroke-linecap="round" />
<path d="M94.1,179.0 C94.9,179.5 94.9,180.4 96.4,180.4 C98.0,180.4 97.2,179.0 98.8,179.0 C100.4,179.0 99.6,179.7 101.3,180.4 C102.9,181.1 102.9,180.8 103.7,181.1" fill="none" stroke="#000" stroke-width="0.8" stroke-linejoin="round" stroke-linecap="round" />
<circle cx="90.0" cy="175.6" r="4.0" fill="#e8e8e8" stroke="#000" stroke-width="0.9"/>
<circle cx="90.4" cy="175.6" r="2.2" fill="#ccc" stroke="#333" stroke-width="1.4"/>
<circle cx="106.5" cy="177.7" r="4.0" fill="#e8e8e8" stroke="#000" stroke-width="0.9"/>
<circle cx="106.1" cy="177.7" r="2.2" fill="#ccc" stroke="#333" stroke-width="1.4"/>
<ellipse cx="97.1" cy="190.2" rx="3.3" ry="4.9" fill="#fff" stroke="#000" stroke-width="1.7"/>
<path d="M94.5,188.6h5.2 M94.3,190.6h5.6 M94.9,192.6h4.4 M96.1,188.6v5 M98.1,188.6v5" stroke="#000" stroke-width="0.7"/>
<path d="M91.6,203.5 C92.1,204.6 91.6,205.5 93.0,206.9 C94.4,208.2 94.4,208.5 95.7,207.6 C97.1,206.7 96.7,205.3 97.1,204.2" fill="none" stroke="#000" stroke-width="0.6" stroke-linejoin="round" stroke-linecap="round" />
<path d="M91.1,188.4h0.7 M94.9,191.0h0.7 M102.3,167.8h0.7 M91.7,175.1h0.7 M108.4,185.5h0.7 M102.7,171.5h0.7 M99.3,196.9h0.7 M103.6,167.7h0.7 M106.1,190.5h0.7 M92.9,166.3h0.7 M109.2,185.4h0.7 M95.7,199.5h0.7 M97.1,205.3h0.7 M88.2,174.3h0.7 M102.3,178.0h0.7 M98.9,181.6h0.7 M94.4,190.2h0.7 M103.6,172.0h0.7 M104.8,174.1h0.7 M108.2,189.7h0.7 M92.5,167.7h0.7 M96.1,171.5h0.7 M92.7,198.1h0.7 M102.0,166.9h0.7 M105.0,179.2h0.7 M93.2,168.3h0.7 M101.6,166.3h0.7 M90.0,182.6h0.7 M101.9,171.7h0.7 M93.3,206.3h0.7 M110.1,181.3h0.7 M97.5,187.4h0.7 M102.8,190.7h0.7 M100.4,191.7h0.7 M96.7,196.0h0.7 M91.1,178.0h0.7 M100.1,165.5h0.7 M96.2,190.0h0.7 M102.5,167.6h0.7 M102.4,185.1h0.7 M103.9,180.2h0.7 M91.5,184.7h0.7 M101.4,178.8h0.7 M94.8,178.5h0.7 M94.9,190.7h0.7 M92.9,181.2h0.7 M100.7,196.7h0.7 M93.2,174.6h0.7 M107.4,175.3h0.7 M89.7,183.7h0.7 M104.4,169.4h0.7 M93.5,179.4h0.7 M108.3,183.9h0.7 M108.9,172.3h0.7 M94.0,193.0h0.7 M109.8,184.4h0.7 M90.7,170.2h0.7 M99.5,173.2h0.7 M89.6,177.0h0.7 M107.5,179.9h0.7 M88.0,177.6h0.7 M107.2,176.7h0.7 M94.2,183.0h0.7 M96.4,182.6h0.7 M110.8,171.7h0.7 M96.8,206.0h0.7 M111.0,174.6h0.7 M103.4,187.4h0.7 M92.6,179.7h0.7 M90.8,167.9h0.7" stroke="#000" stroke-width="0.7" fill="none"/>
<path d="M98.6,163.2h0.6 M98.2,163.0h0.6 M97.3,163.9h0.6 M96.2,164.3h0.6 M94.9,164.0h0.6 M92.4,164.3h0.6 M91.4,163.9h0.6 M90.9,164.5h0.6 M89.5,165.4h0.6 M89.0,164.9h0.6 M87.7,166.1h0.6 M87.3,166.5h0.6 M86.5,166.2h0.6 M86.2,167.6h0.6 M85.1,168.2h0.6 M85.7,168.9h0.6 M85.1,168.6h0.6 M84.4,170.5h0.6 M83.3,170.6h0.6 M83.3,171.8h0.6 M83.2,172.7h0.6 M83.5,173.1h0.6 M82.4,174.3h0.6 M82.3,175.2h0.6 M83.4,177.3h0.6 M82.1,177.9h0.6 M82.4,178.7h0.6 M82.5,180.3h0.6 M82.9,181.0h0.6 M82.5,182.1h0.6 M82.5,183.6h0.6 M83.5,184.5h0.6 M82.8,185.3h0.6 M83.4,187.0h0.6 M84.3,187.8h0.6 M84.6,189.2h0.6 M84.4,190.0h0.6 M84.8,191.6h0.6 M85.1,192.7h0.6 M85.5,193.2h0.6 M85.9,194.9h0.6 M85.7,195.7h0.6 M86.5,197.5h0.6 M87.6,198.0h0.6 M88.0,199.7h0.6 M87.5,200.4h0.6 M87.7,202.0h0.6 M88.9,203.1h0.6 M89.4,203.8h0.6 M89.7,204.5h0.6 M89.3,205.3h0.6 M89.5,205.4h0.6 M90.9,205.9h0.6 M90.4,206.6h0.6 M91.9,207.3h0.6 M91.1,208.6h0.6 M91.7,209.1h0.6 M92.9,209.4h0.6 M93.7,209.4h0.6 M94.0,208.9h0.6 M94.4,209.8h0.6 M94.8,209.4h0.6 M95.3,210.5h0.6 M94.9,209.7h0.6 M96.0,210.3h0.6 M96.1,209.3h0.6 M96.6,209.6h0.6 M97.7,209.0h0.6 M97.7,208.6h0.6 M98.1,208.2h0.6 M98.2,207.8h0.6 M99.9,207.1h0.6 M100.0,206.2h0.6 M100.4,206.5h0.6 M100.7,205.5h0.6 M100.8,205.1h0.6 M101.7,203.7h0.6 M101.0,203.8h0.6 M102.5,202.7h0.6 M102.3,202.2h0.6 M102.4,200.7h0.6 M103.0,200.1h0.6 M103.9,198.6h0.6 M105.1,198.4h0.6 M105.3,196.9h0.6 M106.2,196.0h0.6 M107.2,194.0h0.6 M107.4,192.5h0.6 M108.5,191.9h0.6 M108.7,190.9h0.6 M109.5,190.5h0.6 M109.9,189.8h0.6 M110.9,188.3h0.6 M111.4,187.7h0.6 M112.4,186.4h0.6 M112.4,185.7h0.6 M113.4,184.3h0.6 M113.6,184.1h0.6 M113.6,182.2h0.6 M113.6,181.9h0.6 M114.5,181.2h0.6 M114.9,179.3h0.6 M114.2,178.4h0.6 M114.3,178.0h0.6 M115.3,177.4h0.6 M114.4,176.4h0.6 M114.4,174.9h0.6 M114.8,173.5h0.6 M113.7,173.6h0.6 M113.7,172.1h0.6 M113.8,171.7h0.6 M112.6,170.4h0.6 M112.8,169.8h0.6 M112.0,169.3h0.6 M112.5,168.4h0.6 M111.3,167.4h0.6 M110.3,167.5h0.6 M109.4,167.3h0.6 M109.8,165.7h0.6 M109.1,165.6h0.6 M108.2,165.8h0.6 M107.0,165.3h0.6 M106.8,165.2h0.6 M105.6,164.9h0.6 M106.0,164.6h0.6 M104.7,163.7h0.6 M104.0,163.9h0.6 M103.7,164.2h0.6 M102.9,163.5h0.6 M102.4,164.0h0.6 M101.2,164.2h0.6 M101.2,163.1h0.6 M100.9,163.1h0.6 M99.5,163.9h0.6 M99.4,163.6h0.6 M99.0,163.5h0.6 M98.2,163.1h0.6" stroke="#222" stroke-width="0.6" fill="none"/>
<circle cx="28.9" cy="190.3" r="15.6" fill="#fff" stroke="#000" stroke-width="1.1"/>
<path d="M18.3,193.6h0.6 M18.6,192.6h0.6 M33.1,200.0h0.6 M32.0,179.3h0.6 M34.3,176.6h0.6 M40.6,187.7h0.6 M29.9,191.8h0.6 M39.3,194.4h0.6 M19.3,192.5h0.6 M15.4,188.7h0.6 M21.4,192.4h0.6 M42.5,189.9h0.6 M24.4,200.7h0.6 M29.9,181.0h0.6 M17.9,199.8h0.6 M35.7,190.3h0.6 M17.7,192.4h0.6 M21.1,182.0h0.6 M21.7,202.9h0.6 M37.3,197.9h0.6 M30.7,184.3h0.6 M22.8,192.4h0.6 M37.5,199.6h0.6 M30.7,197.8h0.6 M31.6,182.6h0.6 M31.2,199.3h0.6 M26.0,186.7h0.6 M30.6,197.6h0.6 M23.5,200.4h0.6 M22.6,186.7h0.6 M22.0,197.5h0.6 M17.7,191.4h0.6 M31.3,195.6h0.6 M34.6,177.7h0.6 M35.0,187.9h0.6 M37.4,182.6h0.6 M42.2,193.6h0.6 M28.3,203.7h0.6 M27.2,196.3h0.6 M35.3,193.3h0.6 M37.6,178.7h0.6 M32.5,202.5h0.6 M41.2,195.2h0.6 M34.9,196.9h0.6 M40.8,188.8h0.6 M19.3,184.6h0.6 M39.4,183.7h0.6 M42.6,192.1h0.6 M23.4,202.2h0.6 M27.8,176.3h0.6 M25.1,177.7h0.6 M21.6,200.1h0.6 M35.5,183.4h0.6 M36.2,181.8h0.6 M20.6,197.9h0.6 M39.3,196.0h0.6 M39.0,180.8h0.6 M20.3,185.5h0.6 M40.4,197.0h0.6 M21.8,191.1h0.6 M17.3,190.5h0.6 M28.4,203.9h0.6 M30.7,196.1h0.6 M23.6,182.0h0.6 M23.0,201.5h0.6 M33.8,177.0h0.6 M20.2,198.0h0.6 M15.4,190.6h0.6 M26.1,178.9h0.6 M16.9,194.2h0.6 M18.9,180.2h0.6 M40.0,189.0h0.6 M31.0,188.1h0.6 M21.5,186.8h0.6 M40.0,191.6h0.6 M34.3,180.4h0.6 M22.1,183.1h0.6 M21.4,179.3h0.6 M24.2,179.5h0.6 M39.0,191.0h0.6 M34.8,202.6h0.6 M17.4,188.8h0.6 M18.6,198.5h0.6 M41.1,197.7h0.6 M35.7,197.6h0.6 M36.6,185.4h0.6 M38.5,181.2h0.6 M15.5,193.4h0.6 M33.8,179.5h0.6 M32.1,204.0h0.6 M39.6,188.8h0.6 M22.9,203.1h0.6 M21.3,201.0h0.6 M30.5,176.3h0.6 M40.3,195.1h0.6 M32.0,177.7h0.6 M26.7,176.9h0.6 M38.7,186.8h0.6 M34.9,193.9h0.6 M25.7,202.5h0.6 M15.4,188.4h0.6 M25.4,198.8h0.6 M34.4,186.3h0.6 M39.4,188.2h0.6 M32.2,200.6h0.6 M27.0,188.8h0.6 M19.6,189.4h0.6 M19.3,186.3h0.6 M42.3,196.2h0.6 M39.2,184.9h0.6 M16.7,195.7h0.6 M15.7,192.3h0.6 M33.6,187.9h0.6 M42.4,192.2h0.6 M25.0,198.2h0.6 M39.2,198.3h0.6 M28.9,196.9h0.6 M16.9,195.4h0.6 M32.5,195.9h0.6 M22.0,182.1h0.6 M18.3,181.4h0.6 M33.5,178.9h0.6 M35.0,187.1h0.6 M39.4,181.3h0.6 M28.6,194.9h0.6 M17.8,196.3h0.6 M23.5,177.8h0.6 M39.9,183.4h0.6 M29.4,179.8h0.6 M33.1,200.7h0.6 M18.8,186.9h0.6 M37.5,201.6h0.6 M40.2,189.6h0.6 M38.5,187.3h0.6 M24.2,199.3h0.6 M16.5,196.1h0.6 M36.6,178.8h0.6 M18.1,197.6h0.6 M42.8,191.7h0.6 M25.0,177.1h0.6 M19.4,196.8h0.6 M43.3,188.7h0.6 M28.4,177.3h0.6 M17.3,198.1h0.6 M24.5,178.1h0.6 M18.6,197.2h0.6 M15.7,192.9h0.6 M23.8,185.3h0.6 M24.6,182.9h0.6 M15.5,184.0h0.6 M21.1,180.6h0.6 M31.1,190.0h0.6 M28.1,179.0h0.6 M32.9,201.6h0.6 M38.0,184.2h0.6 M39.8,188.0h0.6 M20.3,180.2h0.6 M29.1,187.2h0.6 M35.8,201.2h0.6 M26.2,188.0h0.6 M19.5,195.4h0.6 M23.6,196.2h0.6 M21.6,187.4h0.6 M25.7,201.1h0.6 M36.9,202.3h0.6 M28.9,187.0h0.6 M32.7,188.9h0.6 M19.7,194.7h0.6 M29.3,201.0h0.6 M27.2,180.3h0.6 M34.4,178.1h0.6 M16.3,193.9h0.6 M35.9,197.2h0.6 M21.6,192.4h0.6 M17.5,196.6h0.6 M43.3,190.1h0.6 M29.3,195.3h0.6 M31.5,178.5h0.6 M24.5,180.1h0.6 M20.8,181.4h0.6 M42.9,188.5h0.6 M41.2,193.4h0.6 M25.5,187.0h0.6 M32.8,192.2h0.6 M16.7,186.3h0.6 M31.0,198.7h0.6 M36.3,178.3h0.6 M19.9,181.4h0.6 M28.2,203.8h0.6 M37.3,189.7h0.6 M28.6,177.8h0.6 M38.3,196.8h0.6 M19.4,186.3h0.6 M25.3,201.6h0.6 M21.7,178.6h0.6 M24.6,178.6h0.6 M26.8,176.7h0.6 M16.0,184.3h0.6 M37.3,185.2h0.6 M24.0,204.0h0.6 M38.7,182.7h0.6 M21.2,199.2h0.6 M16.7,185.1h0.6 M36.1,178.4h0.6 M38.4,181.4h0.6 M18.2,187.2h0.6 M21.3,179.6h0.6 M32.2,176.9h0.6 M32.4,187.7h0.6 M36.8,200.3h0.6 M29.1,197.2h0.6 M16.7,188.6h0.6 M41.7,187.7h0.6 M26.6,178.1h0.6 M17.5,197.5h0.6 M36.9,179.7h0.6 M40.0,181.0h0.6 M16.6,188.4h0.6 M16.7,196.8h0.6 M40.7,189.6h0.6 M21.8,193.9h0.6 M41.5,195.2h0.6 M31.0,177.7h0.6 M19.0,184.5h0.6 M34.4,202.9h0.6 M18.9,183.5h0.6 M35.0,201.9h0.6 M34.8,177.2h0.6 M36.3,185.9h0.6 M39.8,187.3h0.6 M41.2,186.1h0.6 M21.2,189.5h0.6 M21.8,179.6h0.6 M19.8,199.8h0.6 M19.2,182.7h0.6 M28.1,204.1h0.6 M20.4,180.4h0.6 M37.2,201.8h0.6 M35.8,180.3h0.6 M26.2,177.7h0.6" stroke="#000" stroke-width="0.6" fill="none"/>
<path d="M18.2,179.9h0.7 M43.2,184.9h0.7 M44.0,193.1h0.7 M21.0,179.5h0.7 M17.3,198.9h0.7 M28.5,205.5h0.7 M15.9,187.1h0.7 M41.1,199.3h0.7 M19.3,178.6h0.7 M25.4,204.2h0.7 M18.0,180.4h0.7 M42.4,187.4h0.7 M34.5,202.3h0.7 M24.7,202.7h0.7 M27.0,205.2h0.7 M19.2,201.4h0.7 M41.2,194.9h0.7 M28.9,177.2h0.7 M17.5,196.8h0.7 M19.3,180.7h0.7 M29.5,175.0h0.7 M17.5,199.9h0.7 M40.6,199.7h0.7 M19.2,181.2h0.7 M20.7,203.1h0.7 M21.2,202.4h0.7 M33.2,202.9h0.7 M38.1,202.7h0.7 M19.9,179.1h0.7 M15.4,197.0h0.7 M39.3,201.5h0.7 M43.6,193.4h0.7 M39.4,201.5h0.7 M19.8,180.5h0.7 M16.2,184.9h0.7 M14.5,194.7h0.7 M43.0,188.2h0.7 M27.1,176.6h0.7 M23.5,204.7h0.7 M42.7,186.7h0.7 M28.9,205.2h0.7 M14.3,187.3h0.7 M23.8,176.3h0.7 M19.9,200.7h0.7 M14.2,191.6h0.7 M24.9,204.4h0.7 M17.8,198.3h0.7 M21.8,177.1h0.7 M20.5,179.2h0.7 M19.6,178.5h0.7 M20.0,202.5h0.7 M23.1,176.1h0.7 M15.5,188.8h0.7 M36.3,178.1h0.7 M23.6,176.5h0.7 M35.7,203.1h0.7 M14.9,195.5h0.7 M20.3,180.3h0.7 M15.8,193.9h0.7 M23.7,178.2h0.7 M38.1,200.1h0.7 M32.5,203.0h0.7 M15.6,195.9h0.7 M29.9,203.4h0.7 M22.8,202.2h0.7 M39.5,200.2h0.7 M40.4,198.1h0.7 M15.8,183.0h0.7 M16.1,197.4h0.7 M15.9,196.6h0.7 M42.9,186.4h0.7 M21.1,200.8h0.7 M40.2,199.4h0.7 M38.5,202.0h0.7 M31.1,203.9h0.7 M18.4,179.3h0.7 M19.8,179.3h0.7 M19.9,179.2h0.7 M25.9,203.3h0.7 M27.8,205.2h0.7 M18.2,198.9h0.7 M41.5,184.9h0.7 M20.4,179.5h0.7 M17.5,181.1h0.7 M18.3,182.2h0.7 M18.0,198.9h0.7 M24.8,203.9h0.7 M19.6,201.4h0.7 M19.9,202.6h0.7 M38.9,181.8h0.7 M16.1,197.7h0.7 M18.6,179.0h0.7 M16.6,184.6h0.7 M25.1,203.0h0.7 M36.2,178.2h0.7 M25.4,205.1h0.7 M37.9,201.5h0.7 M34.7,203.6h0.7 M31.1,205.2h0.7 M32.3,177.6h0.7 M26.3,175.1h0.7 M16.3,185.0h0.7 M19.9,178.6h0.7 M18.3,182.1h0.7 M34.4,203.8h0.7 M24.1,202.7h0.7 M42.8,195.6h0.7 M21.7,202.1h0.7 M16.5,181.3h0.7 M15.5,191.7h0.7 M18.6,179.1h0.7 M16.0,185.7h0.7 M14.6,189.1h0.7 M24.0,204.3h0.7 M35.2,203.5h0.7 M40.4,197.1h0.7 M38.6,199.9h0.7 M38.8,180.6h0.7 M15.7,190.4h0.7 M37.5,202.2h0.7 M19.2,179.3h0.7 M15.8,195.1h0.7 M16.0,195.6h0.7 M15.2,185.2h0.7 M15.9,184.3h0.7 M16.5,182.1h0.7 M38.9,199.5h0.7 M42.7,193.8h0.7 M19.3,202.1h0.7 M20.7,200.8h0.7 M24.1,203.4h0.7 M29.8,204.0h0.7 M30.7,204.4h0.7 M42.6,193.1h0.7 M42.5,184.7h0.7 M15.7,192.7h0.7 M14.3,193.0h0.7 M39.2,199.2h0.7 M19.7,179.8h0.7 M23.7,203.0h0.7 M27.4,176.9h0.7 M29.8,205.6h0.7 M20.3,180.4h0.7 M41.9,195.5h0.7 M43.7,194.6h0.7 M36.6,201.1h0.7 M41.2,181.2h0.7 M38.7,200.4h0.7 M22.7,202.6h0.7 M19.9,180.2h0.7 M18.5,198.6h0.7 M16.7,199.4h0.7 M17.8,182.4h0.7 M43.1,191.9h0.7 M15.0,195.4h0.7 M20.3,202.6h0.7 M27.1,203.5h0.7 M30.8,176.6h0.7 M30.2,203.5h0.7 M16.6,196.2h0.7 M41.1,195.3h0.7 M24.3,202.8h0.7 M14.5,189.1h0.7 M40.7,181.3h0.7 M15.0,185.8h0.7 M43.1,186.2h0.7 M27.3,204.2h0.7 M33.7,203.2h0.7 M38.8,201.5h0.7 M38.2,199.9h0.7 M19.3,202.3h0.7 M21.7,202.3h0.7 M15.7,197.4h0.7 M18.4,198.8h0.7 M17.8,180.3h0.7 M17.6,181.7h0.7 M13.8,188.2h0.7 M14.7,187.4h0.7 M40.1,198.8h0.7 M41.4,194.6h0.7 M15.5,183.2h0.7 M28.7,203.9h0.7 M15.3,189.2h0.7 M19.3,178.7h0.7 M37.1,178.9h0.7 M37.8,201.5h0.7 M37.3,202.5h0.7 M15.4,187.0h0.7 M22.9,177.0h0.7 M40.2,199.1h0.7 M23.5,203.0h0.7 M23.6,203.5h0.7 M19.4,178.7h0.7 M41.9,183.5h0.7 M15.3,187.1h0.7 M17.0,182.4h0.7 M37.2,201.5h0.7 M16.0,183.1h0.7 M24.1,203.2h0.7 M14.3,189.0h0.7 M43.1,186.4h0.7 M36.6,177.9h0.7 M32.8,205.0h0.7 M29.9,204.6h0.7 M23.6,202.7h0.7 M20.2,177.8h0.7 M36.8,202.7h0.7 M15.7,185.7h0.7 M27.3,203.9h0.7 M19.2,180.9h0.7 M19.7,180.2h0.7 M42.8,196.1h0.7 M39.1,180.6h0.7 M15.3,197.2h0.7 M14.9,196.6h0.7 M36.4,202.6h0.7 M33.0,204.2h0.7 M19.9,178.5h0.7 M42.9,196.0h0.7 M15.6,184.3h0.7 M13.9,191.9h0.7 M32.5,203.3h0.7 M16.5,195.3h0.7 M29.7,175.3h0.7 M34.0,175.9h0.7 M43.7,186.2h0.7 M37.9,200.5h0.7 M18.5,200.7h0.7 M22.6,203.2h0.7 M16.3,196.4h0.7 M22.7,176.3h0.7 M14.2,188.6h0.7 M19.8,200.8h0.7 M27.8,176.3h0.7 M25.2,204.6h0.7 M32.2,176.9h0.7 M21.5,202.5h0.7 M30.7,204.9h0.7 M37.1,202.0h0.7 M42.8,189.0h0.7 M24.7,204.7h0.7 M42.8,190.7h0.7 M20.5,201.5h0.7 M31.8,205.4h0.7 M16.5,195.0h0.7 M26.2,204.8h0.7 M22.9,204.0h0.7 M14.9,196.4h0.7 M20.8,179.9h0.7 M42.8,192.4h0.7 M39.6,179.5h0.7 M18.2,200.6h0.7 M15.0,187.7h0.7 M42.3,187.9h0.7 M20.2,201.0h0.7 M33.9,203.6h0.7 M16.3,181.9h0.7 M14.5,185.0h0.7 M30.8,205.4h0.7 M33.1,203.8h0.7 M27.4,204.2h0.7 M17.4,200.5h0.7 M36.6,202.7h0.7 M19.5,201.3h0.7 M17.2,197.4h0.7 M16.0,186.5h0.7 M15.9,191.9h0.7 M18.5,200.4h0.7 M19.6,199.6h0.7 M39.4,199.2h0.7 M14.4,195.0h0.7 M18.8,201.0h0.7 M43.1,184.4h0.7 M18.8,181.7h0.7 M15.3,194.8h0.7 M18.3,199.2h0.7 M16.2,186.0h0.7 M20.3,201.9h0.7 M32.4,203.1h0.7 M35.5,204.2h0.7 M14.3,187.4h0.7 M27.8,204.8h0.7 M18.4,199.1h0.7 M27.7,204.4h0.7 M34.9,202.1h0.7 M28.1,177.2h0.7 M42.6,194.1h0.7 M17.0,196.5h0.7 M26.3,176.0h0.7 M31.3,203.5h0.7 M41.2,195.5h0.7 M42.3,196.3h0.7 M39.2,182.0h0.7 M20.6,179.8h0.7 M27.7,203.4h0.7 M29.7,175.1h0.7 M31.6,203.8h0.7 M37.2,201.5h0.7 M15.2,195.5h0.7 M18.8,201.0h0.7 M14.5,195.3h0.7 M19.0,200.7h0.7 M40.8,181.7h0.7 M15.7,197.6h0.7 M29.6,204.2h0.7 M15.1,195.1h0.7 M15.2,188.3h0.7 M40.9,199.4h0.7 M19.6,179.8h0.7 M19.9,179.9h0.7 M36.5,201.2h0.7 M17.2,184.0h0.7 M17.9,180.1h0.7 M39.5,182.2h0.7 M39.7,199.8h0.7 M17.7,200.7h0.7 M41.5,185.9h0.7 M18.4,198.4h0.7 M43.0,189.2h0.7 M26.8,205.5h0.7 M17.6,200.5h0.7 M17.7,200.6h0.7 M22.3,203.1h0.7 M18.3,180.8h0.7 M15.4,195.3h0.7 M15.2,189.5h0.7 M14.6,193.0h0.7 M14.2,191.9h0.7 M39.6,198.4h0.7 M20.7,202.3h0.7" stroke="#000" stroke-width="0.7" fill="none"/>
<path d="M10.7,174.8 C11.7,175.2 11.7,175.7 13.6,175.9 C15.5,176.2 14.4,176.0 16.5,175.6 C18.6,175.2 17.5,175.2 19.9,174.7 C22.4,174.1 21.0,174.3 24.0,174.0 C27.0,173.7 25.7,173.7 28.9,173.7 C32.2,173.8 31.0,173.7 33.7,174.2 C36.5,174.7 35.1,174.8 37.2,175.3 C39.3,175.9 38.0,175.9 40.1,175.9 C42.2,175.9 42.4,175.5 43.5,175.3" fill="none" stroke="#000" stroke-width="0.8" stroke-linejoin="round" stroke-linecap="round" />
<path d="M12.1,179.7 C12.8,179.4 12.7,179.2 14.2,178.8 C15.7,178.4 15.7,178.6 16.5,178.6" fill="none" stroke="#000" stroke-width="0.7" stroke-linejoin="round" stroke-linecap="round" />
<path d="M38.6,176.5 C39.3,176.8 39.3,177.3 40.9,177.4 C42.4,177.5 42.4,177.0 43.2,176.7" fill="none" stroke="#000" stroke-width="0.7" stroke-linejoin="round" stroke-linecap="round" />
<path d="M25.7,176.5 C25.9,178.0 26.5,178.2 26.3,181.1 C26.1,184.0 25.5,183.8 25.1,185.1" fill="none" stroke="#000" stroke-width="0.9" stroke-linejoin="round" stroke-linecap="round" />
<path d="M28.6,176.3 C28.9,177.9 28.7,178.3 29.7,181.1 C30.7,183.9 31.0,183.5 31.7,184.8" fill="none" stroke="#000" stroke-width="0.9" stroke-linejoin="round" stroke-linecap="round" />
<path d="M27.4,176.5 C27.6,178.4 27.8,180.3 28.0,182.2" fill="none" stroke="#000" stroke-width="0.6" stroke-linejoin="round" stroke-linecap="round" />
<path d="M55.3,187.2 H63.3 V184.3 L71.8,189.9 L63.3,195.6 V192.6 H55.3Z" fill="#ff0000"/>
<path d="M146.5,10.4 C148.0,12.2 149.2,13.2 152.0,17.0 C154.8,20.8 154.8,20.4 156.9,24.5 C159.0,28.6 158.5,28.0 160.0,32.5 C161.5,37.0 161.4,36.6 162.5,41.5 C163.6,46.4 163.5,46.0 164.0,51.0 C164.5,56.0 164.4,55.3 164.5,60.4 C164.6,65.5 164.4,65.2 164.3,70.0 C164.2,74.8 164.1,76.1 164.0,78.3" fill="none" stroke="#000" stroke-width="1.0" stroke-linejoin="round" stroke-linecap="round" />
<path d="M148.4,48.1 C149.5,49.4 150.5,50.2 152.5,53.0 C154.5,55.8 154.3,55.6 155.9,58.5 C157.5,61.4 157.2,61.0 158.5,64.0 C159.8,67.0 159.3,66.0 160.6,69.8 C161.9,73.6 162.7,76.0 163.5,78.3" fill="none" stroke="#000" stroke-width="1.0" stroke-linejoin="round" stroke-linecap="round" />
<path d="M130.1,181.4 C132.3,184.3 134.5,185.3 138.4,192.1 C142.3,198.9 142.3,198.5 144.8,206.8 C147.3,215.1 146.8,215.0 147.6,223.3 C148.4,231.6 147.9,232.1 147.8,238.0 C147.7,243.9 147.4,243.4 147.2,245.4" fill="none" stroke="#000" stroke-width="1.0" stroke-linejoin="round" stroke-linecap="round" />
<path d="M131.0,210.1 C133.0,212.4 135.0,213.2 138.4,218.7 C141.8,224.2 141.7,224.1 143.9,230.7 C146.1,237.3 146.0,240.1 146.8,243.5" fill="none" stroke="#000" stroke-width="1.0" stroke-linejoin="round" stroke-linecap="round" />
<path d="M143.0,86.0 C143.0,83.0 142.0,83.5 145.8,81.3 C149.5,79.1 147.8,80.2 154.3,79.3 C160.8,78.5 158.0,78.1 165.3,78.8 C172.7,79.5 170.8,78.8 176.4,81.6 C182.0,84.3 180.2,83.4 182.2,87.1 C184.1,90.7 184.1,89.4 182.2,92.6 C180.2,95.8 181.1,94.9 176.4,96.7 C171.7,98.6 173.6,98.2 168.1,98.1 C162.6,98.0 165.3,98.2 159.8,96.4 C154.3,94.7 156.2,95.0 151.6,92.9 C146.9,90.7 148.6,92.4 145.8,90.1 C142.9,87.8 143.0,88.9 143.0,86.0Z" fill="#fff" stroke="#000" stroke-width="1.5" stroke-linejoin="round" stroke-linecap="round" />
<path d="M165.8,80.4L164.1,88.2 M168.5,80.4L166.9,88.2 M171.3,80.4L169.6,88.2 M174.0,81.2L172.4,88.2 M176.8,82.1L175.1,88.2 M179.6,83.1L177.9,88.2" stroke="#000" stroke-width="1.7" fill="none" stroke-linecap="round"/>
<path d="M163.4,90.4L161.8,97.3 M166.2,90.4L164.5,97.3 M168.9,90.4L167.3,97.3 M171.7,90.4L170.0,96.9 M174.4,90.4L172.8,96.0 M177.2,90.4L175.6,95.2 M180.0,90.4L178.3,94.4" stroke="#000" stroke-width="1.7" fill="none" stroke-linecap="round"/>
<path d="M148.8,80.2L149.3,85.4 M151.1,80.2L151.7,85.4 M153.5,80.2L154.0,85.4 M155.8,80.2L156.4,85.4 M158.2,80.2L158.7,85.4 M160.5,80.2L161.1,85.4 M162.9,80.2L163.4,85.4" stroke="#000" stroke-width="1.6" fill="none" stroke-linecap="round"/>
<path d="M148.1,87.1L153.6,93.3 M151.6,86.8L157.8,94.7 M155.4,87.1L161.2,95.3 M159.1,87.1L163.3,93.3" stroke="#000" stroke-width="1.6" fill="none" stroke-linecap="round"/>
<path d="M144.9,85.7 C146.7,85.8 146.6,85.7 150.2,86.0 C153.8,86.2 151.6,86.1 155.7,86.5 C159.8,86.9 160.3,86.9 162.6,87.1" fill="none" stroke="#000" stroke-width="1.0" stroke-linejoin="round" stroke-linecap="round" />
<circle cx="146.6" cy="85.1" r="1.1" fill="#000"/>
<path d="M143.6,87.1 C143.4,88.0 142.7,88.5 143.0,89.8 C143.3,91.1 143.9,90.6 144.4,90.9" fill="none" stroke="#000" stroke-width="1.2" stroke-linejoin="round" stroke-linecap="round" />
<path d="M144.7,81.6 C144.3,82.5 144.1,82.5 143.6,84.3 C143.0,86.1 143.2,86.1 143.0,87.1" fill="none" stroke="#000" stroke-width="2.0" stroke-linejoin="round" stroke-linecap="round" />
<path d="M150.2,92.3 C150.4,93.2 152.3,95.6 151.8,97.8 C151.4,100.1 148.1,104.4 147.4,105.7" fill="none" stroke="#000" stroke-width="2.0" stroke-linejoin="round" stroke-linecap="round" />
<path d="M157.1,95.1 C157.3,95.8 159.3,97.1 158.7,99.5 C158.1,101.8 154.5,107.5 153.6,109.1" fill="none" stroke="#000" stroke-width="2.0" stroke-linejoin="round" stroke-linecap="round" />
<path d="M169.5,97.8 C169.5,99.2 168.7,100.9 169.5,103.6 C170.3,106.3 171.2,106.8 172.9,109.4 C174.7,112.0 176.1,113.4 177.1,114.7" fill="none" stroke="#000" stroke-width="2.0" stroke-linejoin="round" stroke-linecap="round" />
<path d="M152.7,97.8 C153.7,97.6 153.9,96.7 155.7,97.0 C157.5,97.3 157.3,98.2 158.2,98.8" fill="none" stroke="#000" stroke-width="1.3" stroke-linejoin="round" stroke-linecap="round" />
<path d="M168.8,100.2 C169.6,100.5 170.1,99.9 171.1,101.1 C172.2,102.4 171.7,103.0 172.0,103.9" fill="none" stroke="#000" stroke-width="1.2" stroke-linejoin="round" stroke-linecap="round" />
<path d="M120.4,263.9 L121.0,263.5 L121.8,263.0 L122.8,262.5 L123.8,261.9 L124.8,261.4 L125.8,260.8 L126.7,260.3 L127.6,259.8 L128.6,259.4 L129.5,259.0 L130.4,258.6 L131.3,258.1 L132.2,257.5 L133.1,256.9 L134.0,256.2 L135.0,255.5 L136.0,254.8 L137.1,254.1 L138.1,253.5 L139.0,253.0 L140.0,252.4 L141.1,251.9 L142.1,251.5 L143.2,251.1 L144.3,250.8 L145.3,250.6 L146.4,250.4 L147.5,250.3 L148.5,250.2 L149.5,250.1 L150.6,250.1 L151.6,250.1 L152.6,250.2 L153.6,250.2 L154.6,250.3 L155.6,250.4 L156.5,250.5 L157.5,250.6 L158.4,250.7 L159.4,250.8 L160.4,250.9 L161.4,251.0 L162.4,251.2 L163.4,251.4 L164.4,251.6 L165.4,251.8 L166.4,252.0 L167.4,252.3 L168.4,252.6 L169.4,252.9 L170.5,253.2 L171.5,253.6 L172.5,253.9 L173.5,254.4 L174.6,254.8 L175.7,255.4 L176.7,256.2 L177.7,256.7 L178.6,257.2 L179.2,257.5 L177.6,260.5 L177.0,260.2 L176.1,259.8 L175.1,259.2 L173.9,259.0 L172.9,258.5 L171.9,258.0 L171.0,257.7 L170.1,257.3 L169.2,257.0 L168.2,256.7 L167.3,256.4 L166.4,256.1 L165.4,255.9 L164.5,255.7 L163.6,255.5 L162.7,255.3 L161.7,255.1 L160.8,255.0 L159.9,254.8 L159.0,254.7 L158.1,254.6 L157.1,254.5 L156.2,254.5 L155.2,254.4 L154.3,254.3 L153.3,254.2 L152.4,254.2 L151.5,254.1 L150.6,254.1 L149.7,254.1 L148.8,254.2 L147.9,254.2 L147.0,254.3 L146.1,254.5 L145.2,254.7 L144.4,254.9 L143.6,255.2 L142.7,255.6 L141.9,256.0 L141.0,256.5 L140.1,257.0 L139.1,257.5 L138.3,258.1 L137.3,258.7 L136.4,259.4 L135.4,260.1 L134.4,260.9 L133.3,261.5 L132.3,262.1 L131.2,262.6 L130.2,263.1 L129.2,263.5 L128.2,263.9 L127.2,264.2 L126.1,264.5 L125.0,264.8 L123.8,265.1 L122.7,265.4 L121.8,265.6 L121.2,265.7Z" fill="#e6e6e6" stroke="#333" stroke-width="0.6" stroke-linejoin="round" stroke-linecap="round"/>
<path d="M122.7,265.4L122.9,262.6 M121.8,263.0l-0.7,-1.2 M122.7,265.4l-0.1,1.2 M125.0,264.8L124.9,261.5 M123.8,261.9l-1.4,-1.5 M125.0,264.8l0.6,1.5 M127.2,264.2L126.9,260.3 M125.8,260.8l-1.3,-1.6 M127.2,264.2l0.8,1.6 M129.2,263.5L128.7,259.4 M127.6,259.8l-1.3,-1.3 M129.2,263.5l0.4,1.3 M131.2,262.6L130.6,258.5 M129.5,259.0l-0.7,-1.4 M131.2,262.6l1.0,1.4 M133.3,261.5L132.3,257.5 M131.3,258.1l-0.9,-0.8 M133.3,261.5l-0.1,0.8 M135.4,260.1L134.0,256.2 M133.1,256.9l-0.1,-1.1 M135.4,260.1l0.9,1.1 M137.3,258.7L136.0,254.8 M135.0,255.5l-1.1,-1.3 M137.3,258.7l1.3,1.3 M139.1,257.5L138.1,253.5 M137.1,254.1l-0.8,-0.8 M139.1,257.5l0.7,0.8 M141.0,256.5L140.1,252.4 M139.0,253.0l-0.9,-1.3 M141.0,256.5l0.1,1.3 M142.7,255.6L142.2,251.4 M141.1,251.9l-0.9,-1.0 M142.7,255.6l0.1,1.0 M144.4,254.9L144.3,250.7 M143.2,251.1l-1.0,-1.5 M144.4,254.9l1.1,1.5 M146.1,254.5L146.5,250.3 M145.3,250.6l-1.0,-1.6 M146.1,254.5l0.1,1.6 M147.9,254.2L148.7,250.1 M147.5,250.3l-0.9,-1.3 M147.9,254.2l0.0,1.3 M149.7,254.1L150.7,250.1 M149.5,250.1l-0.7,-1.7 M149.7,254.1l0.2,1.7 M151.5,254.1L152.8,250.2 M151.6,250.1l0.2,-0.9 M151.5,254.1l0.6,0.9 M153.3,254.2L154.8,250.3 M153.6,250.2l-0.7,-1.0 M153.3,254.2l-0.8,1.0 M155.2,254.4L156.8,250.5 M155.6,250.4l-0.7,-1.3 M155.2,254.4l-0.8,1.3 M157.1,254.5L158.7,250.7 M157.5,250.6l0.8,-1.3 M157.1,254.5l-0.2,1.3 M159.0,254.7L160.6,250.9 M159.4,250.8l0.4,-1.2 M159.0,254.7l-0.8,1.2 M160.8,255.0L162.6,251.2 M161.4,251.0l-0.3,-1.4 M160.8,255.0l-0.0,1.4 M162.7,255.3L164.6,251.6 M163.4,251.4l-0.4,-1.7 M162.7,255.3l-0.2,1.7 M164.5,255.7L166.6,252.0 M165.4,251.8l-0.3,-1.4 M164.5,255.7l-0.7,1.4 M166.4,256.1L168.6,252.6 M167.4,252.3l1.3,-1.7 M166.4,256.1l-1.1,1.7 M168.2,256.7L170.6,253.2 M169.4,252.9l1.2,-1.4 M168.2,256.7l-0.9,1.4 M170.1,257.3L172.6,254.0 M171.5,253.6l-0.2,-1.3 M170.1,257.3l-0.7,1.3 M171.9,258.0L174.6,254.8 M173.5,254.4l0.7,-1.4 M171.9,258.0l-0.1,1.4 M173.9,259.0L176.8,255.9 M175.7,255.4l0.1,-0.8 M173.9,259.0l0.2,0.8 M176.1,259.8L178.8,257.3 M177.7,256.7l0.6,-1.2 M176.1,259.8l-0.8,1.2" stroke="#222" stroke-width="0.55" fill="none"/>
<path d="M120.0,263.0l3.0,3.5 M121.0,267.0l1.5,-3.9 M121.5,262.2l2.0,3.2 M122.5,266.2l1.8,-3.3 M123.0,261.5l2.0,2.7 M124.0,265.5l2.4,-2.7 M124.5,260.8l2.7,2.5 M125.5,264.8l2.7,-3.9 M126.0,260.0l2.2,3.7 M127.0,264.0l1.9,-3.8 M127.5,259.2l2.1,2.9 M128.5,263.2l2.9,-3.2 M129.0,258.5l2.1,4.0 M130.0,262.5l2.1,-3.6 M130.5,257.8l1.8,3.9 M131.5,261.8l1.9,-2.6 M132.0,257.0l3.0,2.8 M133.0,261.0l2.9,-4.2 M133.5,256.2l2.4,2.5 M134.5,260.2l1.6,-2.9" stroke="#444" stroke-width="0.5" fill="none"/>
<ellipse cx="177.6" cy="258.6" rx="1.5" ry="1.2" transform="rotate(30 177.6 258.6)" fill="#222"/>
<path d="M143.2,294.9 C135.7,295.2 139.0,293.3 131.5,298.8 C124.0,304.3 125.6,303.0 120.8,311.5 C115.9,320.0 117.8,314.4 116.8,324.2 C115.9,334.0 116.5,330.1 117.8,340.8 C119.1,351.6 118.1,348.3 120.8,356.5 C123.4,364.6 120.8,361.4 125.6,365.3 C130.5,369.2 127.6,367.0 135.4,368.2 C143.2,369.4 140.0,369.1 149.1,368.8 C158.2,368.5 156.1,370.0 162.8,367.2 C169.5,364.4 166.3,367.9 169.2,360.4 C172.2,352.9 170.8,355.2 171.8,344.8 C172.8,334.3 172.7,338.9 172.2,329.1 C171.7,319.3 172.7,322.9 170.2,315.4 C167.7,307.9 170.2,312.5 164.8,306.6 C159.3,300.8 161.2,301.7 154.0,297.8 C146.8,293.9 150.7,294.6 143.2,294.9Z" fill="#fff" stroke="#000" stroke-width="1.1" stroke-linejoin="round" stroke-linecap="round" />
<circle cx="144.2" cy="307.6" r="10.8" fill="#fff" stroke="#000" stroke-width="0.9"/>
<circle cx="144.2" cy="307.6" r="4.9" fill="#efefef" stroke="#000" stroke-width="0.9"/>
<path d="M146.9,310.6h0.6 M144.4,305.4h0.6 M141.3,307.7h0.6 M142.0,304.4h0.6 M144.8,308.0h0.6 M145.7,305.1h0.6 M144.2,307.4h0.6 M140.7,308.9h0.6 M144.8,311.8h0.6 M144.8,307.2h0.6 M147.4,308.1h0.6 M146.7,306.6h0.6 M144.8,310.4h0.6 M146.3,308.0h0.6 M141.4,308.8h0.6 M144.4,309.7h0.6 M144.8,310.5h0.6 M144.1,308.2h0.6" stroke="#000" stroke-width="0.6" fill="none"/>
<circle cx="127.6" cy="324.2" r="9.8" fill="#fff" stroke="#000" stroke-width="0.9"/>
<circle cx="127.6" cy="324.2" r="4.7" fill="#efefef" stroke="#000" stroke-width="0.9"/>
<path d="M131.5,323.1h0.6 M128.7,324.6h0.6 M129.4,321.1h0.6 M126.5,322.2h0.6 M125.0,322.2h0.6 M126.1,323.4h0.6 M125.2,325.3h0.6 M126.9,320.1h0.6 M130.5,323.3h0.6 M125.6,325.0h0.6 M128.3,324.4h0.6 M125.3,324.7h0.6 M124.7,326.9h0.6 M124.5,323.7h0.6 M127.7,324.9h0.6 M126.9,325.6h0.6 M123.4,324.0h0.6 M126.8,322.6h0.6" stroke="#000" stroke-width="0.6" fill="none"/>
<circle cx="159.9" cy="320.3" r="9.8" fill="#fff" stroke="#000" stroke-width="0.9"/>
<circle cx="159.9" cy="320.3" r="4.9" fill="#efefef" stroke="#000" stroke-width="0.9"/>
<path d="M160.1,323.5h0.6 M157.5,322.8h0.6 M159.1,319.5h0.6 M163.9,320.6h0.6 M159.7,322.4h0.6 M162.9,320.2h0.6 M161.4,317.7h0.6 M158.8,319.0h0.6 M157.2,317.2h0.6 M156.1,319.8h0.6 M159.3,319.3h0.6 M160.0,316.9h0.6 M159.6,321.0h0.6 M161.9,318.1h0.6 M159.1,316.3h0.6 M158.9,316.2h0.6 M156.8,322.7h0.6 M155.9,321.8h0.6" stroke="#000" stroke-width="0.6" fill="none"/>
<circle cx="134.4" cy="339.9" r="8.8" fill="#fff" stroke="#000" stroke-width="0.9"/>
<circle cx="134.4" cy="339.9" r="4.3" fill="#efefef" stroke="#000" stroke-width="0.9"/>
<path d="M134.5,341.1h0.6 M133.3,340.8h0.6 M136.6,340.8h0.6 M137.4,338.2h0.6 M134.6,338.1h0.6 M132.5,339.4h0.6 M135.0,341.0h0.6 M135.3,343.4h0.6 M136.1,336.9h0.6 M135.0,338.3h0.6 M133.3,342.7h0.6 M134.0,336.4h0.6 M135.3,339.1h0.6 M132.0,337.9h0.6 M132.8,339.8h0.6 M133.3,340.1h0.6 M137.7,338.5h0.6 M132.5,339.2h0.6" stroke="#000" stroke-width="0.6" fill="none"/>
<circle cx="156.0" cy="339.9" r="8.8" fill="#fff" stroke="#000" stroke-width="0.9"/>
<circle cx="156.0" cy="339.9" r="4.3" fill="#efefef" stroke="#000" stroke-width="0.9"/>
<path d="M153.6,337.6h0.6 M157.0,336.3h0.6 M155.7,336.2h0.6 M158.5,340.3h0.6 M158.8,338.8h0.6 M157.0,339.1h0.6 M154.1,340.2h0.6 M153.2,339.1h0.6 M157.7,340.0h0.6 M155.3,343.4h0.6 M156.1,338.4h0.6 M156.4,338.5h0.6 M155.0,339.0h0.6 M159.5,339.9h0.6 M156.4,341.6h0.6 M159.5,339.5h0.6 M155.0,343.5h0.6 M152.9,339.1h0.6" stroke="#000" stroke-width="0.6" fill="none"/>
<circle cx="135.4" cy="357.5" r="10.2" fill="#fff" stroke="#000" stroke-width="0.9"/>
<circle cx="135.4" cy="357.5" r="4.9" fill="#efefef" stroke="#000" stroke-width="0.9"/>
<path d="M136.5,353.6h0.6 M133.2,357.7h0.6 M139.0,357.5h0.6 M131.7,358.2h0.6 M132.7,360.2h0.6 M134.9,361.4h0.6 M135.1,354.7h0.6 M131.9,356.6h0.6 M136.6,360.5h0.6 M136.2,355.3h0.6 M136.6,354.0h0.6 M136.8,355.4h0.6 M138.7,359.6h0.6 M136.4,354.7h0.6 M137.0,358.5h0.6 M133.9,355.7h0.6 M138.6,356.4h0.6 M136.5,360.8h0.6" stroke="#000" stroke-width="0.6" fill="none"/>
<circle cx="156.0" cy="357.5" r="10.2" fill="#fff" stroke="#000" stroke-width="0.9"/>
<circle cx="156.0" cy="357.5" r="4.9" fill="#efefef" stroke="#000" stroke-width="0.9"/>
<path d="M155.2,359.0h0.6 M155.3,356.5h0.6 M153.4,356.9h0.6 M158.9,358.6h0.6 M158.8,358.1h0.6 M157.1,358.0h0.6 M152.4,359.3h0.6 M157.4,358.9h0.6 M153.0,354.4h0.6 M153.5,356.2h0.6 M156.9,357.3h0.6 M157.4,355.6h0.6 M156.9,358.6h0.6 M154.5,361.2h0.6 M157.4,360.5h0.6 M154.2,355.4h0.6 M154.9,357.1h0.6 M157.8,358.2h0.6" stroke="#000" stroke-width="0.6" fill="none"/>
<circle cx="142.3" cy="327.2" r="9.8" fill="#fff" stroke="#000" stroke-width="0.9"/>
<circle cx="142.3" cy="327.2" r="8.2" fill="none" stroke="#bbb" stroke-width="2"/>
<circle cx="142.3" cy="327.2" r="5.3" fill="#ddd" stroke="#000" stroke-width="1.1"/>
<path d="M142.9,331.5h0.7 M144.9,329.8h0.7 M144.2,328.3h0.7 M144.3,327.1h0.7 M140.3,324.8h0.7 M139.2,328.1h0.7 M143.7,331.0h0.7 M144.1,328.3h0.7 M144.6,327.4h0.7 M138.7,329.5h0.7 M141.2,328.2h0.7 M142.0,331.6h0.7 M145.5,328.5h0.7 M139.6,329.7h0.7 M140.3,330.3h0.7 M138.6,327.2h0.7 M145.1,325.2h0.7 M143.0,328.0h0.7 M145.2,326.1h0.7 M143.8,331.3h0.7 M138.9,325.3h0.7 M144.0,325.5h0.7 M139.6,330.5h0.7 M144.9,330.1h0.7 M145.3,329.3h0.7 M141.0,323.0h0.7 M144.0,324.5h0.7 M142.8,328.8h0.7 M139.1,326.6h0.7 M146.1,329.0h0.7 M138.5,327.0h0.7 M142.7,329.3h0.7 M144.9,327.4h0.7 M142.0,330.1h0.7 M139.3,330.0h0.7 M143.7,326.0h0.7 M140.8,328.3h0.7 M140.0,323.4h0.7 M143.4,330.9h0.7 M142.1,327.6h0.7" stroke="#000" stroke-width="0.7" fill="none"/>
<path d="M256.1,293.8 L263.9,293.8 C264.9,298.0 264.9,296.4 266.8,306.5 C268.7,316.6 269.0,313.0 269.6,324.1 C270.1,335.1 270.0,329.3 268.4,339.7 C266.8,350.1 266.9,347.2 264.9,355.3 C262.9,363.5 263.2,361.2 262.3,364.1 L258.0,364.1 C257.2,361.2 257.9,363.5 255.5,355.3 C253.2,347.2 252.9,350.1 251.0,339.7 C249.1,329.3 249.3,335.1 249.8,324.1 C250.4,313.0 250.5,316.6 252.6,306.5 C254.7,296.4 254.9,298.0 256.1,293.8Z" fill="#fff" stroke="#000" stroke-width="1"/>
<path d="M257.1,295.2 L262.9,295.2 C263.7,298.9 263.7,296.8 265.3,306.5 C266.8,316.1 267.2,313.0 267.6,324.1 C268.0,335.1 267.8,329.3 266.4,339.7 C265.1,350.1 265.1,347.6 263.5,355.3 C261.9,363.0 262.2,360.3 261.6,362.7 L258.8,362.7 C258.2,360.3 258.8,363.0 256.9,355.3 C254.9,347.6 254.7,350.1 253.0,339.7 C251.3,329.3 251.4,335.1 251.8,324.1 C252.2,313.0 252.4,316.1 254.1,306.5 C255.9,296.8 256.1,298.9 257.1,295.2Z" fill="#e9e9e9" stroke="none"/>
<path d="M262.3,306.7h0.6 M259.7,337.9h0.6 M263.9,310.1h0.6 M260.2,349.4h0.6 M255.5,329.3h0.6 M259.2,296.0h0.6 M252.8,334.6h0.6 M256.5,348.5h0.6 M253.7,311.2h0.6 M261.4,362.0h0.6 M261.2,353.9h0.6 M258.8,298.0h0.6 M253.4,328.8h0.6 M259.0,359.0h0.6 M263.7,306.0h0.6 M264.6,304.0h0.6 M260.9,325.8h0.6 M259.8,318.5h0.6 M254.1,308.2h0.6 M257.1,353.2h0.6 M256.1,347.6h0.6 M262.8,360.1h0.6 M263.7,345.9h0.6 M263.9,334.3h0.6 M259.7,303.9h0.6 M256.3,350.7h0.6 M263.5,357.0h0.6 M257.7,322.9h0.6 M258.1,325.7h0.6 M259.3,361.8h0.6 M257.2,297.5h0.6 M267.4,343.4h0.6 M259.9,328.7h0.6 M264.2,332.3h0.6 M261.5,310.5h0.6 M262.1,332.7h0.6 M255.9,307.7h0.6 M266.8,318.9h0.6 M261.6,318.8h0.6 M253.9,316.1h0.6 M262.7,300.1h0.6 M258.3,347.3h0.6 M262.7,341.1h0.6 M264.5,355.4h0.6 M268.2,322.8h0.6 M260.7,359.6h0.6 M259.9,354.4h0.6 M255.9,320.7h0.6 M256.4,353.9h0.6 M262.7,300.3h0.6 M259.8,347.1h0.6 M254.6,351.3h0.6 M257.0,312.9h0.6 M254.5,323.6h0.6 M258.6,300.4h0.6 M264.8,355.5h0.6 M259.7,345.3h0.6 M266.6,312.5h0.6 M263.9,330.6h0.6 M258.0,297.6h0.6 M263.5,351.4h0.6 M261.1,354.3h0.6 M261.4,324.0h0.6 M257.8,352.1h0.6 M256.2,331.2h0.6 M253.2,346.8h0.6 M267.0,341.3h0.6 M260.6,297.3h0.6 M265.7,338.5h0.6 M255.9,334.5h0.6 M267.6,322.7h0.6 M256.5,355.9h0.6 M256.1,302.0h0.6 M259.6,297.4h0.6 M264.1,305.1h0.6 M254.0,339.3h0.6 M257.0,331.5h0.6 M255.2,328.5h0.6 M256.2,306.8h0.6 M263.4,320.8h0.6 M252.3,332.3h0.6 M265.6,342.9h0.6 M264.0,347.2h0.6 M259.8,296.3h0.6 M262.2,300.0h0.6 M262.6,307.4h0.6 M262.8,312.5h0.6 M252.9,316.6h0.6 M256.9,321.6h0.6 M258.0,355.6h0.6 M260.8,329.2h0.6 M256.8,358.7h0.6 M260.1,335.7h0.6 M266.8,344.5h0.6 M263.1,316.3h0.6 M261.0,330.7h0.6 M262.7,300.0h0.6 M259.0,360.6h0.6 M267.7,316.9h0.6 M255.7,302.9h0.6 M262.8,300.6h0.6 M259.3,346.2h0.6 M252.1,337.0h0.6 M259.1,338.6h0.6 M258.1,330.1h0.6 M255.4,322.4h0.6 M259.5,299.0h0.6 M262.9,312.1h0.6 M262.8,350.0h0.6 M255.5,326.0h0.6 M259.8,321.3h0.6 M267.5,337.7h0.6 M259.8,301.4h0.6 M263.7,328.4h0.6 M262.9,354.9h0.6 M264.2,337.4h0.6 M265.7,340.1h0.6 M262.8,342.2h0.6 M265.9,312.0h0.6 M261.9,321.4h0.6 M265.7,350.5h0.6 M256.9,361.4h0.6 M257.1,316.5h0.6 M254.1,321.7h0.6 M252.9,332.5h0.6 M266.8,315.8h0.6 M259.5,345.0h0.6 M264.6,302.9h0.6 M255.5,342.5h0.6 M262.2,318.0h0.6 M256.3,341.0h0.6 M258.6,358.9h0.6 M265.0,312.6h0.6 M262.1,305.9h0.6 M261.3,309.0h0.6 M258.2,314.2h0.6 M259.7,358.2h0.6 M262.0,324.8h0.6 M255.1,314.4h0.6 M256.3,321.3h0.6 M265.9,308.3h0.6 M262.3,298.0h0.6 M261.8,357.8h0.6 M260.0,297.0h0.6 M260.8,298.3h0.6 M256.0,342.3h0.6 M260.3,296.2h0.6 M258.2,302.0h0.6 M266.7,325.9h0.6 M254.0,320.3h0.6 M264.3,348.3h0.6 M252.3,330.9h0.6 M258.8,308.2h0.6 M255.3,332.4h0.6 M264.4,349.0h0.6 M263.4,357.2h0.6 M260.5,296.9h0.6 M263.7,301.1h0.6 M263.7,345.3h0.6 M254.4,308.2h0.6 M261.3,349.9h0.6 M259.5,336.9h0.6 M257.9,348.9h0.6 M257.8,313.7h0.6 M261.9,315.5h0.6 M255.6,354.9h0.6 M260.1,300.2h0.6 M255.1,340.8h0.6 M253.5,313.7h0.6 M260.0,298.2h0.6 M262.4,340.9h0.6 M255.3,306.2h0.6 M260.3,357.6h0.6 M263.2,322.9h0.6 M260.4,344.1h0.6 M263.0,300.9h0.6 M253.9,309.9h0.6 M260.5,319.1h0.6 M254.7,337.5h0.6 M259.9,342.9h0.6 M264.2,306.5h0.6 M265.2,349.3h0.6 M255.6,340.9h0.6 M265.5,347.4h0.6 M267.0,331.2h0.6 M259.2,360.2h0.6 M263.6,358.3h0.6 M253.6,348.5h0.6 M261.8,319.1h0.6 M264.2,336.1h0.6 M254.5,338.7h0.6 M260.3,357.6h0.6 M256.9,354.3h0.6 M260.3,362.0h0.6 M263.3,347.2h0.6 M258.6,354.4h0.6 M259.1,301.2h0.6 M260.5,307.6h0.6 M258.3,349.9h0.6 M254.8,304.4h0.6 M261.4,323.8h0.6 M261.2,297.5h0.6 M254.8,309.7h0.6 M260.2,357.3h0.6 M260.1,355.2h0.6 M257.2,303.9h0.6 M262.4,323.9h0.6 M263.5,346.9h0.6 M256.0,339.0h0.6 M257.9,324.3h0.6 M256.0,328.3h0.6 M259.3,331.5h0.6 M262.4,298.1h0.6 M265.1,334.7h0.6 M263.4,344.7h0.6 M259.2,361.7h0.6 M251.8,321.9h0.6 M261.3,339.9h0.6 M268.4,334.0h0.6 M256.5,308.8h0.6 M264.6,344.5h0.6 M252.4,327.8h0.6 M265.3,320.3h0.6 M259.3,328.9h0.6 M262.1,321.6h0.6 M263.2,335.5h0.6 M262.8,353.2h0.6 M255.9,320.6h0.6 M264.0,347.7h0.6 M257.3,357.4h0.6 M264.5,352.0h0.6 M258.3,300.9h0.6 M254.2,337.8h0.6 M257.1,350.9h0.6 M256.8,341.1h0.6 M256.0,310.2h0.6 M263.6,328.8h0.6 M262.5,310.2h0.6 M262.4,318.0h0.6 M255.0,320.2h0.6 M255.0,305.1h0.6 M258.7,342.0h0.6 M264.1,303.9h0.6 M252.3,339.2h0.6 M261.4,343.9h0.6 M260.0,325.2h0.6 M259.1,359.6h0.6 M262.2,338.0h0.6 M257.5,320.0h0.6 M261.9,345.9h0.6 M260.2,326.1h0.6 M263.9,310.6h0.6 M261.0,297.1h0.6 M255.3,326.0h0.6 M261.4,334.7h0.6 M259.9,301.5h0.6 M263.6,306.7h0.6 M257.3,317.5h0.6 M253.9,310.0h0.6 M255.6,308.1h0.6 M265.7,337.2h0.6 M254.7,310.4h0.6 M253.5,331.2h0.6 M264.3,322.7h0.6 M262.6,309.2h0.6 M252.9,331.5h0.6 M261.4,311.8h0.6 M257.1,302.1h0.6 M265.3,334.0h0.6 M262.8,330.3h0.6 M258.8,296.3h0.6 M266.4,316.9h0.6 M264.6,319.5h0.6 M260.0,298.0h0.6 M262.8,354.9h0.6 M254.7,334.2h0.6 M256.3,357.2h0.6 M262.0,359.8h0.6 M260.5,343.5h0.6 M258.1,306.6h0.6 M262.5,339.8h0.6 M265.0,321.6h0.6 M258.3,299.3h0.6 M258.3,301.7h0.6 M263.3,348.4h0.6 M257.8,305.7h0.6 M261.7,303.2h0.6 M255.5,325.1h0.6 M266.0,320.6h0.6 M263.2,324.0h0.6 M259.6,337.4h0.6 M257.7,332.7h0.6 M259.9,308.9h0.6 M257.4,316.0h0.6 M265.2,308.1h0.6 M255.0,324.0h0.6 M257.9,297.8h0.6 M258.2,353.4h0.6 M255.7,340.0h0.6 M259.2,338.9h0.6" stroke="#777" stroke-width="0.6" fill="none"/>
<rect x="250.1" y="328.5" width="3" height="2" fill="#000"/>
<rect x="265.4" y="329.7" width="3.6" height="2.4" fill="#000"/>
<path d="M258.8,359.7v3 M261.6,359.7v3" stroke="#000" stroke-width="0.8"/>
<path d="M554.8,217.6 C554.8,214.7 555.3,211.6 554.8,206.9 C554.4,202.2 554.3,203.9 553.1,200.0 C552.0,196.1 552.4,195.7 550.5,192.2 C548.7,188.8 547.6,190.5 546.2,187.1 C544.8,183.6 544.9,183.2 545.3,179.3 C545.8,175.4 545.9,175.2 547.9,172.4 C550.0,169.7 551.5,170.8 553.1,169.0 C554.7,167.1 553.3,168.0 554.0,165.5 C554.7,163.0 554.3,161.9 555.7,159.5 C557.1,157.1 557.3,156.6 559.1,156.6 C561.0,156.6 561.2,157.1 562.6,159.5 C564.0,161.9 563.4,163.0 564.3,165.5 C565.2,168.0 564.2,167.1 566.0,169.0 C567.9,170.8 569.1,169.7 571.2,172.4 C573.3,175.2 573.3,175.4 573.8,179.3 C574.3,183.2 574.3,183.6 572.9,187.1 C571.6,190.5 570.5,188.8 568.6,192.2 C566.8,195.7 567.1,196.1 566.0,200.0 C565.0,203.9 564.9,202.2 564.7,206.9 C564.4,211.6 565.0,214.7 565.2,217.6" fill="#fff" stroke="#000" stroke-width="1.0" stroke-linejoin="round" stroke-linecap="round" />
<path d="M555.3,162.1L562.9,162.1 M554.5,164.5L563.8,164.5 M554.0,166.9L564.5,166.9 M553.3,169.1L565.7,169.1" stroke="#000" stroke-width="0.7" fill="none"/>
<ellipse cx="551.4" cy="179.7" rx="5.0" ry="7.0" transform="rotate(-8 551.4 179.7)" fill="#fff" stroke="#000" stroke-width="1"/>
<ellipse cx="551.0" cy="179.7" rx="2.6" ry="4.3" transform="rotate(-8 551.4 179.7)" fill="#fff" stroke="#000" stroke-width="1.8"/>
<ellipse cx="550.5" cy="179.7" rx="1.3" ry="2.8" transform="rotate(-8 551.4 179.7)" fill="#000" opacity="0.55"/>
<ellipse cx="569.0" cy="178.8" rx="5.0" ry="7.0" transform="rotate(8 569.0 178.8)" fill="#fff" stroke="#000" stroke-width="1"/>
<ellipse cx="569.5" cy="178.8" rx="2.6" ry="4.3" transform="rotate(8 569.0 178.8)" fill="#fff" stroke="#000" stroke-width="1.8"/>
<ellipse cx="570.1" cy="178.8" rx="1.3" ry="2.8" transform="rotate(8 569.0 178.8)" fill="#000" opacity="0.55"/>
<path d="M555.2,201.7L557.0,202.2 M564.8,201.7L563.3,202.2 M555.2,203.3L557.2,203.8 M564.8,203.3L563.2,203.8 M555.2,204.8L556.7,205.3 M564.8,204.8L562.8,205.3 M555.2,206.4L558.1,206.9 M564.8,206.4L562.1,206.9 M555.2,207.9L557.9,208.4 M564.8,207.9L563.1,208.4 M555.2,209.5L557.5,210.0 M564.8,209.5L563.0,210.0 M555.2,211.0L556.8,211.6 M564.8,211.0L563.3,211.6 M555.2,212.6L556.9,213.1 M564.8,212.6L561.8,213.1 M555.2,214.1L558.0,214.7 M564.8,214.1L562.1,214.7 M555.2,215.7L557.9,216.2 M564.8,215.7L563.1,216.2 M555.2,217.2L557.1,217.8 M564.8,217.2L562.4,217.8" stroke="#000" stroke-width="0.6" fill="none"/>
<path d="M553.2,197.9h0.6 M562.6,201.0h0.6 M556.1,192.1h0.6 M564.0,197.3h0.6 M556.6,197.6h0.6 M558.2,198.8h0.6 M553.4,191.7h0.6 M566.9,193.4h0.6 M555.9,199.2h0.6 M562.3,190.7h0.6 M560.9,197.4h0.6 M554.2,197.2h0.6 M553.5,193.2h0.6 M552.8,191.4h0.6 M568.2,194.0h0.6 M568.5,194.5h0.6 M561.9,200.1h0.6 M563.2,190.2h0.6 M561.5,197.0h0.6 M554.5,190.0h0.6 M566.5,195.4h0.6 M554.7,194.6h0.6 M555.1,199.1h0.6 M560.0,190.1h0.6 M565.5,190.0h0.6 M556.2,189.2h0.6 M564.1,190.3h0.6 M560.4,190.0h0.6 M559.7,197.7h0.6 M560.6,194.7h0.6 M559.7,194.4h0.6 M561.6,190.0h0.6 M559.6,191.8h0.6 M566.3,200.9h0.6 M552.5,190.6h0.6 M563.5,196.2h0.6 M551.7,197.9h0.6 M567.7,194.3h0.6 M557.4,196.2h0.6 M567.6,192.2h0.6" stroke="#000" stroke-width="0.6" fill="none"/>
<ellipse cx="496.9" cy="265.3" rx="3.6" ry="2.3" transform="rotate(20 495.9 265.3)" fill="#fff" stroke="#000" stroke-width="0.9"/>
<path d="M499.6,266.8 C500.2,267.1 500.2,267.0 501.4,267.6 C502.6,268.2 502.1,267.9 503.2,268.6 C504.3,269.3 503.8,268.9 504.8,269.8 C505.8,270.6 505.3,270.2 506.2,271.2 C507.1,272.2 506.6,271.7 507.4,272.8 C508.2,273.8 507.8,273.3 508.6,274.4 C509.3,275.5 509.0,275.0 509.7,276.1 C510.4,277.2 510.0,276.6 510.8,277.7 C511.5,278.9 511.2,278.3 511.9,279.4 C512.6,280.5 512.2,280.0 512.9,281.1 C513.6,282.3 513.3,281.7 514.0,282.8 C514.6,284.0 514.3,283.4 515.0,284.6 C515.7,285.7 515.6,285.7 516.0,286.3" fill="none" stroke="#000" stroke-width="2.4" stroke-linejoin="round" stroke-linecap="round" />
<path d="M499.6,266.8 C500.2,267.1 500.2,267.0 501.4,267.6 C502.6,268.2 502.1,267.9 503.2,268.6 C504.3,269.3 503.8,268.9 504.8,269.8 C505.8,270.6 505.3,270.2 506.2,271.2 C507.1,272.2 506.6,271.7 507.4,272.8 C508.2,273.8 507.8,273.3 508.6,274.4 C509.3,275.5 509.0,275.0 509.7,276.1 C510.4,277.2 510.0,276.6 510.8,277.7 C511.5,278.9 511.2,278.3 511.9,279.4 C512.6,280.5 512.2,280.0 512.9,281.1 C513.6,282.3 513.3,281.7 514.0,282.8 C514.6,284.0 514.3,283.4 515.0,284.6 C515.7,285.7 515.6,285.7 516.0,286.3" fill="none" stroke="#fff" stroke-width="1.0" stroke-linejoin="round" stroke-linecap="round" />
<ellipse cx="517.1" cy="288.1" rx="2.4" ry="1.3" transform="rotate(60 517.1 288.1)" fill="#fff" stroke="#000" stroke-width="0.9"/>
<ellipse cx="519.3" cy="291.9" rx="2.6" ry="1.4" transform="rotate(60 519.3 291.9)" fill="#fff" stroke="#000" stroke-width="0.9"/>
<ellipse cx="521.6" cy="295.9" rx="2.7" ry="1.5" transform="rotate(60 521.6 295.9)" fill="#fff" stroke="#000" stroke-width="0.9"/>
<ellipse cx="524.1" cy="300.2" rx="2.8" ry="1.5" transform="rotate(60 524.1 300.2)" fill="#fff" stroke="#000" stroke-width="0.9"/>
<ellipse cx="526.7" cy="304.6" rx="2.9" ry="1.6" transform="rotate(61 526.7 304.6)" fill="#fff" stroke="#000" stroke-width="0.9"/>
<ellipse cx="529.3" cy="309.4" rx="3.1" ry="1.7" transform="rotate(61 529.3 309.4)" fill="#fff" stroke="#000" stroke-width="0.9"/>
<ellipse cx="532.3" cy="314.3" rx="3.3" ry="1.8" transform="rotate(57 532.3 314.3)" fill="#fff" stroke="#000" stroke-width="0.9"/>
<path d="M532.9,315.0h0.8 M531.6,313.9h0.8 M531.7,313.4h0.8 M532.3,314.5h0.8 M531.6,313.5h0.8 M532.0,314.5h0.8" stroke="#000" stroke-width="0.8" fill="none"/>
<ellipse cx="535.8" cy="319.3" rx="3.4" ry="1.9" transform="rotate(53 535.8 319.3)" fill="#fff" stroke="#000" stroke-width="0.9"/>
<path d="M534.4,318.4h0.8 M534.8,318.7h0.8 M535.5,319.6h0.8 M535.3,318.4h0.8 M534.7,318.5h0.8 M536.2,319.2h0.8 M535.6,318.2h0.8" stroke="#000" stroke-width="0.8" fill="none"/>
<ellipse cx="539.9" cy="324.3" rx="3.6" ry="2.1" transform="rotate(49 539.9 324.3)" fill="#fff" stroke="#000" stroke-width="0.9"/>
<path d="M539.1,323.6h0.8 M539.5,324.4h0.8 M538.5,323.5h0.8 M540.8,325.9h0.8 M540.1,325.4h0.8 M539.0,323.2h0.8 M538.6,323.5h0.8 M540.4,324.1h0.8" stroke="#000" stroke-width="0.8" fill="none"/>
<ellipse cx="544.7" cy="329.3" rx="3.8" ry="2.2" transform="rotate(43 544.7 329.3)" fill="#fff" stroke="#000" stroke-width="0.9"/>
<path d="M544.2,329.5h0.8 M545.3,328.9h0.8 M546.5,329.9h0.8 M545.1,330.8h0.8 M544.9,330.5h0.8 M545.1,329.0h0.8 M544.3,329.5h0.8 M545.6,329.9h0.8 M546.6,329.9h0.8" stroke="#000" stroke-width="0.8" fill="none"/>
<ellipse cx="550.3" cy="333.9" rx="4.1" ry="2.3" transform="rotate(37 550.3 333.9)" fill="#fff" stroke="#000" stroke-width="0.9"/>
<path d="M550.9,333.1h0.8 M549.2,334.3h0.8 M548.3,333.7h0.8 M551.6,335.3h0.8 M548.7,332.7h0.8 M551.5,333.8h0.8 M550.1,332.7h0.8 M551.0,335.5h0.8 M551.5,335.5h0.8 M551.1,333.4h0.8" stroke="#000" stroke-width="0.8" fill="none"/>
<ellipse cx="556.8" cy="338.2" rx="4.3" ry="2.5" transform="rotate(29 556.8 338.2)" fill="#fff" stroke="#000" stroke-width="0.9"/>
<path d="M556.4,338.7h0.8 M558.4,337.9h0.8 M555.1,336.2h0.8 M559.1,338.5h0.8 M556.3,337.9h0.8 M558.9,338.4h0.8 M555.4,338.2h0.8 M555.3,336.5h0.8 M554.2,338.0h0.8 M555.6,337.6h0.8 M555.7,338.9h0.8 M557.6,339.0h0.8" stroke="#000" stroke-width="0.8" fill="none"/>
<ellipse cx="564.5" cy="341.2" rx="4.6" ry="2.6" transform="rotate(11 564.5 341.2)" fill="#fff" stroke="#000" stroke-width="0.9"/>
<path d="M564.5,340.6h0.8 M566.5,340.5h0.8 M565.2,340.8h0.8 M563.3,340.8h0.8 M562.7,341.1h0.8 M562.4,339.4h0.8 M562.7,339.7h0.8 M566.5,341.6h0.8 M565.3,342.1h0.8 M562.4,342.0h0.8 M563.8,341.0h0.8 M564.3,341.7h0.8 M566.1,340.7h0.8 M566.3,341.4h0.8" stroke="#000" stroke-width="0.8" fill="none"/>
<ellipse cx="573.2" cy="341.4" rx="4.8" ry="2.8" transform="rotate(-9 573.2 341.4)" fill="#fff" stroke="#000" stroke-width="0.9"/>
<path d="M571.9,342.7h0.8 M575.6,342.2h0.8 M572.3,342.8h0.8 M575.1,342.6h0.8 M575.0,342.7h0.8 M573.2,342.2h0.8 M574.9,341.2h0.8 M573.2,341.1h0.8 M575.4,340.7h0.8 M574.7,341.4h0.8 M574.4,340.7h0.8 M570.8,342.3h0.8 M571.0,341.3h0.8 M574.7,339.8h0.8 M575.7,341.3h0.8 M573.7,341.9h0.8" stroke="#000" stroke-width="0.8" fill="none"/>
<ellipse cx="579.5" cy="339.3" rx="2.4" ry="3.0" transform="rotate(-29 579.5 339.3)" fill="#fff" stroke="#000" stroke-width="0.9"/>
<path d="M578.2,338.1h0.8 M579.9,339.4h0.8 M580.2,340.2h0.8 M578.7,338.4h0.8 M579.3,337.7h0.8 M579.7,339.6h0.8 M579.3,337.8h0.8" stroke="#000" stroke-width="0.8" fill="none"/>
<ellipse cx="585.0" cy="334.7" rx="5.3" ry="3.7" transform="rotate(-70 585.0 334.7)" fill="#fff" stroke="#000" stroke-width="0.9"/>
<path d="M583.5,332.6h0.8 M585.4,335.2h0.8 M583.7,331.6h0.8 M584.0,332.5h0.8 M586.9,336.1h0.8 M583.9,331.7h0.8 M581.6,337.2h0.8 M583.5,332.1h0.8 M587.0,333.3h0.8 M587.7,333.3h0.8 M586.7,334.3h0.8 M585.8,334.7h0.8 M584.1,337.6h0.8 M585.6,331.3h0.8 M584.0,332.7h0.8 M585.1,334.9h0.8 M584.8,332.6h0.8 M583.5,334.4h0.8 M587.1,334.9h0.8 M585.4,335.7h0.8 M583.7,333.8h0.8 M584.1,332.9h0.8 M587.5,334.7h0.8 M585.3,336.2h0.8 M585.2,336.0h0.8 M584.2,336.7h0.8 M584.3,332.3h0.8 M583.4,335.2h0.8 M584.9,337.2h0.8 M585.9,332.5h0.8" stroke="#000" stroke-width="0.8" fill="none"/>
<ellipse cx="586.0" cy="323.8" rx="7.1" ry="4.1" transform="rotate(-95 586.0 323.8)" fill="#fff" stroke="#000" stroke-width="0.9"/>
<path d="M585.0,324.4h0.8 M588.8,326.3h0.8 M587.1,323.9h0.8 M584.4,326.2h0.8 M585.3,329.0h0.8 M586.2,324.6h0.8 M587.0,322.4h0.8 M587.4,319.7h0.8 M587.6,321.7h0.8 M585.9,323.3h0.8 M587.9,319.2h0.8 M588.2,324.8h0.8 M587.5,324.4h0.8 M587.0,328.7h0.8 M585.3,319.1h0.8 M586.7,319.8h0.8 M584.1,329.0h0.8 M588.9,325.3h0.8 M586.5,322.1h0.8 M584.9,320.1h0.8 M586.1,327.5h0.8 M583.8,319.7h0.8 M584.9,323.9h0.8 M583.9,325.5h0.8 M584.3,319.6h0.8 M583.9,320.9h0.8 M583.4,324.8h0.8 M586.0,322.8h0.8 M584.4,324.6h0.8 M583.3,322.5h0.8 M585.6,319.2h0.8 M585.5,322.6h0.8 M583.8,329.0h0.8 M585.8,321.4h0.8 M586.5,326.1h0.8 M585.8,319.9h0.8 M586.5,323.5h0.8 M583.0,320.1h0.8 M586.3,322.0h0.8 M583.9,321.7h0.8 M587.4,320.2h0.8 M588.8,325.9h0.8 M586.7,328.4h0.8 M584.7,328.3h0.8 M587.1,322.2h0.8" stroke="#000" stroke-width="0.8" fill="none"/>
<ellipse cx="578.4" cy="309.4" rx="9.0" ry="4.8" transform="rotate(-130 578.4 309.4)" fill="#fff" stroke="#000" stroke-width="0.9"/>
<path d="M577.2,310.7h0.8 M577.7,309.1h0.8 M579.0,311.1h0.8 M578.1,310.4h0.8 M581.9,313.6h0.8 M582.0,310.4h0.8 M575.5,303.2h0.8 M579.9,311.4h0.8 M574.7,307.9h0.8 M573.2,308.1h0.8 M574.4,303.9h0.8 M576.4,305.9h0.8 M574.8,305.8h0.8 M580.6,315.2h0.8 M578.7,304.5h0.8 M580.9,312.4h0.8 M574.8,307.1h0.8 M582.3,311.1h0.8 M581.1,314.4h0.8 M577.5,308.3h0.8 M574.1,304.5h0.8 M577.6,311.8h0.8 M573.1,307.9h0.8 M582.2,315.3h0.8 M574.3,307.1h0.8 M576.5,311.6h0.8 M582.8,309.8h0.8 M572.9,307.2h0.8 M574.0,304.5h0.8 M581.1,314.0h0.8 M572.4,305.7h0.8 M578.3,304.5h0.8 M575.9,303.6h0.8 M572.4,306.4h0.8 M579.1,305.1h0.8 M575.6,311.3h0.8 M580.0,311.9h0.8 M580.4,309.3h0.8 M578.8,315.2h0.8 M579.6,305.4h0.8 M579.5,308.7h0.8 M577.4,306.3h0.8 M573.2,308.2h0.8 M576.2,307.4h0.8 M581.1,309.3h0.8 M584.1,311.6h0.8 M577.3,304.4h0.8 M573.0,306.0h0.8 M579.7,306.5h0.8 M579.0,308.1h0.8 M583.0,313.0h0.8 M582.9,314.6h0.8 M581.8,315.5h0.8 M580.8,314.7h0.8 M582.8,312.7h0.8 M579.6,307.8h0.8 M576.6,305.0h0.8 M577.6,308.1h0.8 M575.5,306.7h0.8 M579.0,311.1h0.8 M581.3,315.9h0.8 M576.7,308.5h0.8 M576.9,312.0h0.8 M583.6,311.5h0.8 M574.9,306.7h0.8 M574.9,304.4h0.8 M574.2,308.2h0.8 M573.9,304.5h0.8" stroke="#000" stroke-width="0.8" fill="none"/>
<ellipse cx="564.0" cy="296.5" rx="9.9" ry="5.0" transform="rotate(-142 564.0 296.5)" fill="#fff" stroke="#000" stroke-width="0.9"/>
<path d="M566.6,302.6h0.8 M567.3,303.8h0.8 M561.8,292.0h0.8 M566.0,300.0h0.8 M557.5,293.9h0.8 M560.4,290.6h0.8 M565.0,297.6h0.8 M564.6,298.3h0.8 M562.2,293.4h0.8 M556.0,293.8h0.8 M566.6,298.2h0.8 M562.5,290.7h0.8 M558.1,295.7h0.8 M559.4,295.5h0.8 M562.9,299.7h0.8 M569.7,301.6h0.8 M558.2,293.9h0.8 M570.9,300.1h0.8 M564.9,301.1h0.8 M569.6,297.2h0.8 M558.9,292.5h0.8 M565.2,295.6h0.8 M565.5,298.7h0.8 M561.2,292.7h0.8 M559.4,292.2h0.8 M561.4,291.3h0.8 M568.0,298.3h0.8 M561.7,297.9h0.8 M567.1,299.9h0.8 M556.2,294.8h0.8 M560.1,289.2h0.8 M565.8,296.7h0.8 M564.4,301.1h0.8 M571.2,299.9h0.8 M567.5,299.1h0.8 M564.5,301.5h0.8 M565.2,297.8h0.8 M558.2,291.8h0.8 M557.5,292.4h0.8 M559.7,293.0h0.8 M572.0,298.8h0.8 M562.0,294.2h0.8 M562.6,300.0h0.8 M557.2,295.4h0.8 M570.3,298.8h0.8 M565.9,299.5h0.8 M566.8,298.9h0.8 M559.5,294.6h0.8 M569.0,299.9h0.8 M567.7,295.6h0.8 M569.2,301.3h0.8 M566.4,295.4h0.8 M569.3,297.9h0.8 M564.9,294.0h0.8 M560.1,293.4h0.8 M559.5,296.4h0.8 M559.4,295.6h0.8 M561.7,297.9h0.8 M557.8,292.6h0.8 M562.0,294.9h0.8 M560.2,296.4h0.8 M560.0,294.4h0.8 M564.2,292.5h0.8 M563.2,293.4h0.8 M564.0,296.8h0.8 M558.6,292.5h0.8 M569.0,302.2h0.8 M562.1,299.6h0.8 M569.5,300.1h0.8 M570.2,297.2h0.8 M568.0,301.4h0.8 M568.7,301.2h0.8 M570.8,300.7h0.8 M566.8,302.4h0.8 M564.1,300.2h0.8 M569.2,296.4h0.8 M567.2,297.1h0.8 M562.8,293.9h0.8" stroke="#000" stroke-width="0.8" fill="none"/>
<ellipse cx="546.5" cy="286.0" rx="10.3" ry="5.0" transform="rotate(-155 546.5 286.0)" fill="#fff" stroke="#000" stroke-width="0.9"/>
<path d="M547.1,286.7h0.8 M543.1,287.3h0.8 M552.3,292.0h0.8 M553.8,289.7h0.8 M552.7,289.3h0.8 M544.6,287.2h0.8 M543.9,284.7h0.8 M549.5,287.2h0.8 M553.9,289.1h0.8 M553.0,285.4h0.8 M545.8,285.4h0.8 M549.6,290.9h0.8 M551.4,289.5h0.8 M552.8,285.7h0.8 M549.4,288.0h0.8 M547.9,287.7h0.8 M552.1,287.1h0.8 M541.6,283.1h0.8 M551.5,286.1h0.8 M554.3,288.1h0.8 M546.6,288.5h0.8 M537.8,285.4h0.8 M549.8,286.2h0.8 M554.4,287.5h0.8 M553.2,291.8h0.8 M539.3,286.4h0.8 M539.8,285.6h0.8 M547.7,288.2h0.8 M544.6,284.0h0.8 M550.9,290.0h0.8 M548.0,283.3h0.8 M547.3,285.2h0.8 M542.4,282.6h0.8 M540.7,284.3h0.8 M541.7,287.1h0.8 M549.7,291.1h0.8 M540.0,285.7h0.8 M546.5,287.4h0.8 M548.8,290.1h0.8 M547.5,286.5h0.8 M546.7,284.6h0.8 M540.8,283.1h0.8 M544.8,287.8h0.8 M547.8,288.2h0.8 M542.2,287.1h0.8 M546.1,288.0h0.8 M539.4,285.4h0.8 M544.8,286.7h0.8 M543.5,288.5h0.8 M541.6,285.4h0.8 M548.4,286.1h0.8 M540.1,282.5h0.8 M544.9,288.6h0.8 M550.7,290.6h0.8 M539.5,286.7h0.8 M541.2,284.9h0.8 M542.3,284.3h0.8 M539.8,283.8h0.8 M551.3,289.3h0.8 M544.0,287.7h0.8 M545.4,282.7h0.8 M555.7,286.3h0.8 M549.3,286.7h0.8 M540.3,282.1h0.8 M540.5,281.2h0.8 M541.3,281.4h0.8 M545.6,287.7h0.8 M545.5,282.8h0.8 M554.4,287.2h0.8 M547.0,288.6h0.8 M553.5,287.2h0.8 M546.2,289.6h0.8 M549.2,291.0h0.8 M548.9,289.9h0.8 M546.5,289.4h0.8 M554.7,288.4h0.8 M540.4,281.3h0.8 M553.8,285.6h0.8 M542.7,280.6h0.8 M548.4,286.7h0.8 M546.5,281.9h0.8" stroke="#000" stroke-width="0.8" fill="none"/>
<ellipse cx="528.6" cy="270.7" rx="4.3" ry="10.3" transform="rotate(-4 528.6 270.7)" fill="#fff" stroke="#000" stroke-width="0.9"/>
<path d="M530.6,268.1h0.8 M526.4,272.1h0.8 M529.8,264.3h0.8 M530.4,264.5h0.8 M529.5,275.0h0.8 M530.8,267.4h0.8 M528.6,264.8h0.8 M529.5,277.6h0.8 M530.6,263.4h0.8 M526.9,278.1h0.8 M530.6,274.3h0.8 M529.8,269.6h0.8 M529.2,276.8h0.8 M528.4,269.0h0.8 M527.6,270.0h0.8 M529.0,266.6h0.8 M527.0,266.5h0.8 M526.9,265.4h0.8 M528.3,274.6h0.8 M528.1,273.4h0.8 M528.6,271.3h0.8 M530.6,265.5h0.8 M529.3,267.6h0.8 M527.7,272.5h0.8 M530.9,263.6h0.8 M527.7,276.8h0.8 M527.1,270.1h0.8 M527.4,265.2h0.8 M529.5,276.4h0.8 M529.3,273.9h0.8 M527.6,276.0h0.8 M527.9,266.6h0.8 M529.1,266.0h0.8 M530.1,269.2h0.8 M530.3,272.8h0.8 M530.8,265.7h0.8 M527.4,272.3h0.8 M527.4,271.6h0.8 M527.5,273.3h0.8 M529.9,276.9h0.8 M529.6,266.1h0.8 M527.5,276.9h0.8 M529.3,264.9h0.8 M529.4,267.6h0.8 M529.8,264.3h0.8 M530.1,267.6h0.8 M530.8,277.5h0.8 M527.5,275.5h0.8" stroke="#000" stroke-width="0.8" fill="none"/>
<circle cx="168.1" cy="17.0" r="8.7" fill="#330066"/>
<text x="168.1" y="21.2" text-anchor="middle" style="font-weight:bold;font-size:12px;fill:#fff;stroke:none">4</text>
<circle cx="287" cy="70" r="8.8" fill="#330066"/>
<text x="287" y="74.2" text-anchor="middle" style="font-weight:bold;font-size:12px;fill:#fff;stroke:none">5</text>
<circle cx="273.1" cy="207.9" r="8.7" fill="#330066"/>
<text x="273.1" y="212.1" text-anchor="middle" style="font-weight:bold;font-size:12px;fill:#fff;stroke:none">6</text>
<circle cx="434.1" cy="60.5" r="8.7" fill="#339933"/>
<text x="434.1" y="64.7" text-anchor="middle" style="font-weight:bold;font-size:12px;fill:#fff;stroke:none">7</text>
<circle cx="481" cy="355.5" r="8.7" fill="#339999"/>
<text x="481" y="359.7" text-anchor="middle" style="font-weight:bold;font-size:12px;fill:#fff;stroke:none">8</text>
<circle cx="307.3" cy="315.6" r="8.7" fill="#ffcc33"/>
<text x="307.3" y="319.8" text-anchor="middle" style="font-weight:bold;font-size:12px;fill:#fff;stroke:none">1</text>
<circle cx="103.8" cy="352.9" r="8.7" fill="#330066"/>
<text x="103.8" y="357.09999999999997" text-anchor="middle" style="font-weight:bold;font-size:12px;fill:#fff;stroke:none">2</text>
<circle cx="108.9" cy="260.6" r="8.7" fill="#330066"/>
<text x="108.9" y="264.8" text-anchor="middle" style="font-weight:bold;font-size:12px;fill:#fff;stroke:none">3</text>
<circle cx="353.9" cy="402.7" r="6.2" fill="#330066"/>
<text x="353.9" y="406.09999999999997" text-anchor="middle" style="font-weight:bold;font-size:9.5px;fill:#fff;stroke:none">2</text>
<path d="M88.5,36.7 L97,51.7 L80,51.7Z" fill="#000099"/>
<text x="88.5" y="50.5" text-anchor="middle" style="font-weight:bold;font-size:11.5px;fill:#fff;stroke:none">i</text>
<path d="M241.0,352.5 L250.1,367.7 L231.9,367.7Z" fill="#000099"/>
<text x="241.0" y="366.5" text-anchor="middle" style="font-weight:bold;font-size:11.5px;fill:#fff;stroke:none">d</text>
<path d="M468.3,392.8 L477.6,408.6 L459,408.6Z" fill="#000099"/>
<text x="468.3" y="407.4" text-anchor="middle" style="font-weight:bold;font-size:11.5px;fill:#fff;stroke:none">i</text>
<path d="M468.5,411.5 L477.8,427 L459.2,427Z" fill="#000099"/>
<text x="468.5" y="425.8" text-anchor="middle" style="font-weight:bold;font-size:11.5px;fill:#fff;stroke:none">d</text>
<text x="83.7" y="62.8" style="font-size:10.1px">Cysticercoid</text>
<text x="167" y="36.3" >Adult flea harbours</text>
<text x="167" y="49.3" >the infective cysticercoid.</text>
<text x="28.3" y="100.0" >Infected larval</text>
<text x="28.3" y="113.0" >stage develop</text>
<text x="28.3" y="126.0" >into adult flea.</text>
<text x="253.2" y="89.0" >Host is infected</text>
<text x="253.2" y="102.0" >by ingesting fleas</text>
<text x="253.2" y="115.0" >containing cysticercoid.</text>
<text x="445.6" y="47.2" >Humans, normally children,</text>
<text x="445.6" y="60.3" >acquire the infection by</text>
<text x="445.6" y="73.3" >ingesting the infected flea.</text>
<text x="265" y="234.4" >Animals can transmit the</text>
<text x="265" y="247.4" >infected fleas to humans.</text>
<text x="6.4" y="221.0" style="font-size:10px">Oncosphere</text>
<text x="71.2" y="221.0" style="font-size:10px">Cysticercoid</text>
<text x="0.6" y="237.5" >Oncospheres hatch from</text>
<text x="0.6" y="250.3" >the eggs and penetrate the</text>
<text x="0.6" y="263.2" >intestinal wall of the</text>
<text x="0.6" y="276.1" >larvae. Cysticercoid larvae</text>
<text x="0.6" y="288.8" >develop in the body cavity.</text>
<text x="75" y="380.0" >Egg packets containing</text>
<text x="75" y="393.0" >embryonated eggs</text>
<text x="75" y="406.0" >are ingested by larval</text>
<text x="75" y="419.0" >stage of flea.</text>
<text x="218.2" y="380.3" >Each proglottid contains egg packets</text>
<text x="218.2" y="393.3" >that are held together by an outer</text>
<text x="218.2" y="406.2" >embryonic membrane (see</text>
<text x="361.5" y="406.2" >).</text>
<text x="217" y="418.1" >The proglottids disintegrate</text>
<text x="217" y="430.9" >and release the egg packets.</text>
<text x="318.1" y="289.1" >Gravid proglottids are</text>
<text x="318.1" y="302.2" >passed intact in the feces</text>
<text x="318.1" y="315.1" >or emerge from perianal</text>
<text x="318.1" y="328.0" >region of either animal</text>
<text x="318.1" y="340.7" >or human hosts.</text>
<text x="530.5" y="227.9" >Scolex attaches</text>
<text x="530.5" y="240.8" >in intestine</text>
<text x="493.5" y="359.0" >Adult in small intestine</text>
<text x="479" y="405.7" >= Infective Stage</text>
<text x="479" y="423.1" >= Diagnostic Stage</text>
</svg>
</body></html>
